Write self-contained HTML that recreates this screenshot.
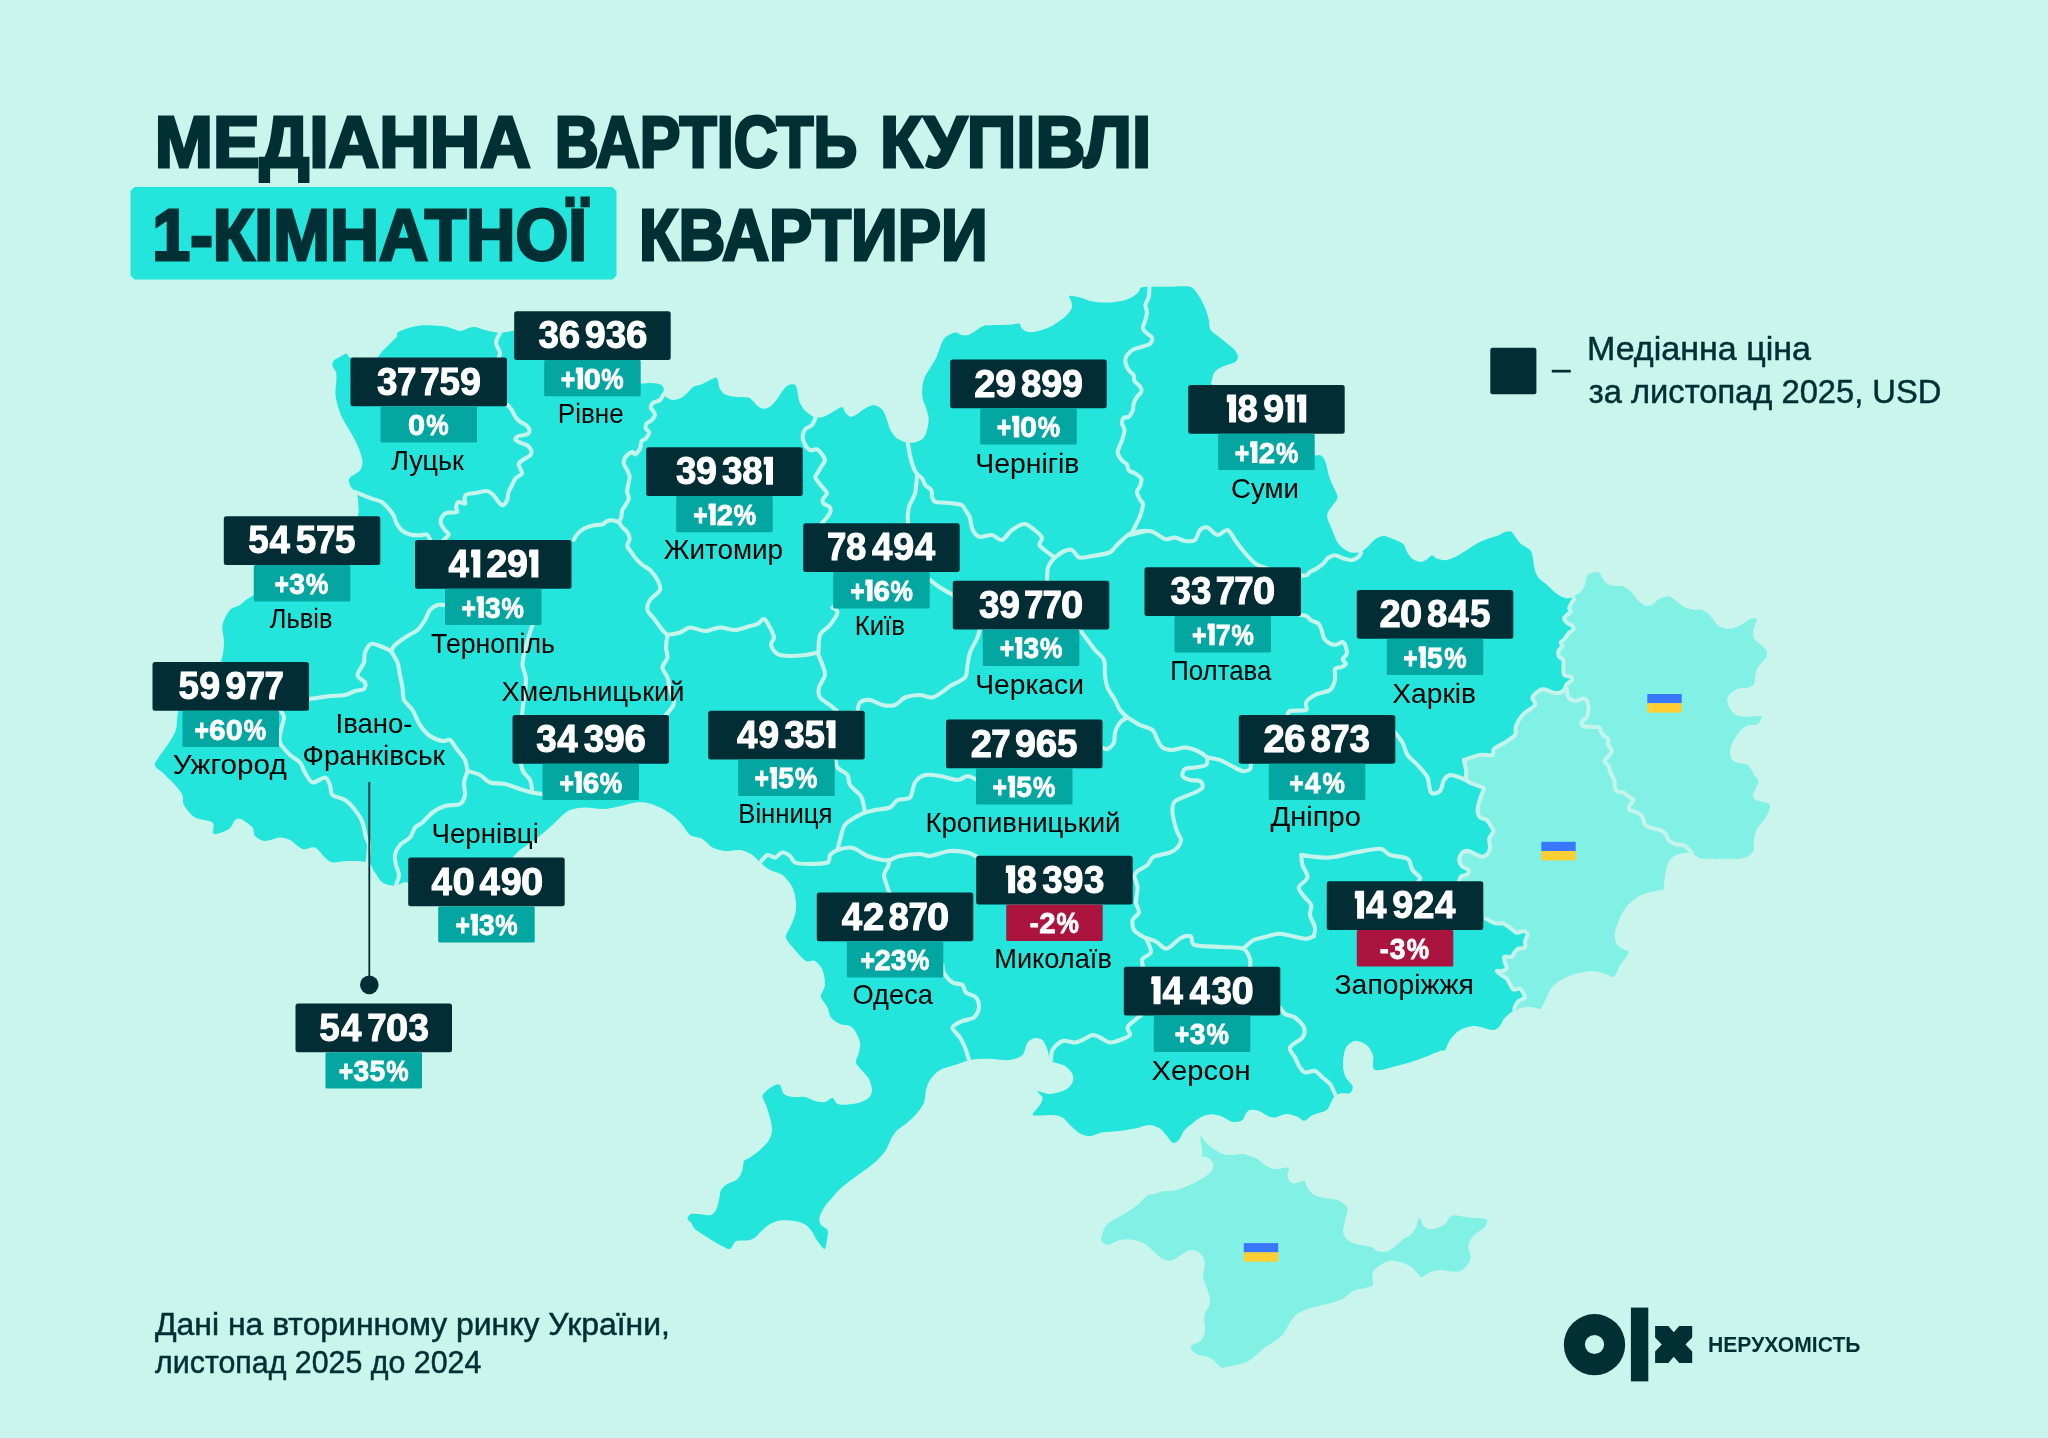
<!DOCTYPE html>
<html lang="uk"><head><meta charset="utf-8"><title>OLX</title>
<style>html,body{margin:0;padding:0;background:#caf5ec}body{width:2048px;height:1438px;overflow:hidden;font-family:"Liberation Sans",sans-serif}svg{display:block;will-change:transform}text{font-family:"Liberation Sans",sans-serif}
.n{font-weight:700;font-size:38.9px;fill:#fff}.n text{stroke:#fff;stroke-width:1px}.p{font-weight:700;font-size:30.2px;fill:#fff}.p text{stroke:#fff;stroke-width:.8px}.c{font-size:27.2px;fill:#000}
.t{font-weight:700;font-size:72.8px;fill:#002f34;stroke:#002f34;stroke-width:3px;stroke-linejoin:miter;paint-order:stroke}
.l,.f{stroke:#002f34;stroke-width:.5px}.l{font-size:34px;fill:#002f34}.f{font-size:30.8px;fill:#002f34}.g{font-weight:700;font-size:22.2px;fill:#002f34}
.b{fill:none;stroke:#c4f4ec;stroke-width:4.1;stroke-linecap:round;stroke-linejoin:round}
</style></head><body>
<svg xmlns="http://www.w3.org/2000/svg" width="2048" height="1438" viewBox="0 0 2048 1438">
<rect width="2048" height="1438" fill="#caf5ec"/>
<path d="M1572.5 598.1C1576.3 594 1578.3 594.2 1580.1 592.5C1581.9 590.8 1583.3 588.6 1584.2 586.7C1585.1 584.8 1585.4 581.8 1585.9 580C1586.4 578.2 1586.5 576.1 1587.6 575C1588.7 573.9 1591.6 572.9 1593.4 572.5C1595.2 572.1 1597.9 571.6 1599.3 572.5C1600.7 573.4 1601.5 576.8 1602.6 578.4C1603.7 580 1605.2 582.3 1606.8 583.4C1608.4 584.5 1610.9 585.4 1613.4 585.9C1615.9 586.4 1621 585.6 1623.5 586.4C1626 587.1 1628.4 589.4 1630.1 590.9C1631.8 592.4 1633.6 594.9 1635.1 596.7C1636.6 598.5 1638.4 601.2 1640.2 602.6C1642 604 1644.8 605.7 1646.8 605.9C1648.8 606.1 1651.7 605.2 1653.5 604.2C1655.3 603.2 1656.2 600.4 1658.5 599.2C1660.8 598 1666.2 596.5 1668.5 596.4C1670.8 596.3 1671.7 597.5 1673.5 598.7C1675.3 599.9 1678.2 602.8 1680.2 604.2C1682.2 605.6 1684.7 607.3 1686.9 608.1C1689.2 608.9 1693 609.5 1695.2 609.7C1697.5 609.9 1699.9 609 1701.9 609.7C1703.9 610.4 1706.8 612.6 1708.6 614.2C1710.4 615.8 1712.1 618.3 1713.6 620.1C1715.1 621.9 1716.8 624.7 1718.6 625.9C1720.4 627.1 1723.3 628 1725.3 628.4C1727.3 628.8 1729.8 628.9 1732 628.4C1734.2 627.9 1737.8 626.6 1740.3 625.4C1742.8 624.2 1746.5 621.2 1748.6 620.1C1750.7 619 1753.3 618.1 1754.5 618.1C1755.7 618.1 1756.7 618.8 1756.7 620.1C1756.7 621.4 1755.1 624.8 1754.5 626.8C1753.9 628.8 1752.7 631.4 1752.8 633.4C1752.9 635.4 1753.9 638.2 1755.3 640.1C1756.7 642 1760.3 644.4 1762 646C1763.7 647.6 1766.1 649.3 1766.7 651C1767.3 652.7 1767.2 655.6 1766.2 657.6C1765.2 659.6 1761.8 662.3 1760.3 664.3C1758.8 666.3 1757 668.9 1756.2 671C1755.4 673.1 1755.4 676.5 1755 678.5C1754.6 680.5 1754.8 683 1753.7 684.4C1752.6 685.8 1749.8 687.1 1747.8 687.7C1745.8 688.3 1742.4 687.7 1740.3 688.2C1738.2 688.7 1735.5 689.7 1733.6 691C1731.7 692.3 1728.7 695 1727.8 696.9C1726.9 698.8 1727.3 701.5 1727.8 703.5C1728.3 705.5 1729.7 708.4 1731.1 710.2C1732.5 712 1734.6 714.2 1737 715.2C1739.4 716.2 1743.4 716.8 1747 716.9C1750.6 717 1759.2 715.6 1761.2 716.1C1763.2 716.6 1760.9 719 1760.3 720.2C1759.7 721.4 1758.8 723.6 1757 724.4C1755.2 725.1 1750.7 724.6 1748.6 725.2C1746.5 725.8 1744.5 727.1 1742.8 728.6C1741.1 730.1 1738.6 733 1737 735.3C1735.4 737.5 1733 741.1 1732 743.6C1731 746.1 1730 749.6 1730 752C1730 754.4 1730.7 757.8 1732 759.5C1733.3 761.2 1736.3 762.5 1738.6 763.3C1740.8 764 1745.1 763.6 1747 764.5C1748.9 765.4 1750.1 767.9 1751.2 769.5C1752.3 771.1 1753.4 773.5 1754.5 775.3C1755.6 777.1 1758.4 779.4 1758.7 781.2C1759 783 1757 785.3 1756.2 787C1755.5 788.7 1754.2 791.3 1753.7 792.8C1753.2 794.3 1752.5 795.5 1753 796.7C1753.5 797.9 1755.2 799.9 1757.1 800.8C1759 801.7 1763.6 801.9 1765.5 802.5C1767.4 803.1 1769.2 803.6 1769.7 805C1770.2 806.4 1769.7 809.5 1768.8 811.7C1767.9 814 1765.4 817.6 1763.8 820C1762.2 822.4 1759.4 825.3 1758 827.6C1756.6 829.9 1755.2 832.7 1754.6 835.1C1754 837.5 1753.9 841.1 1753.8 843.4C1753.7 845.6 1754.5 848.2 1753.8 850.1C1753 852 1750.8 854.7 1748.8 855.9C1746.8 857.1 1744.2 858 1740.4 858.4C1736.7 858.8 1728.3 858.7 1723.8 858.8C1719.3 858.9 1713.9 858.9 1710.4 858.8C1706.9 858.7 1702.9 859.1 1700.4 858.4C1697.9 857.7 1695.7 855.1 1693.7 854.3C1691.7 853.5 1689.2 853.1 1687 853.1C1684.8 853.1 1681 853.6 1678.7 854.3C1676.5 855 1673.6 856.2 1672 857.6C1670.4 859 1668.7 861.3 1667.8 863.4C1666.9 865.5 1666.2 869.3 1665.7 871.8C1665.2 874.3 1664.8 877.7 1664.5 880.1C1664.2 882.5 1664 886.1 1663.7 887.6C1663.4 889.1 1664.1 889.3 1662.8 889.8C1661.5 890.3 1657.9 890.4 1655.3 891C1652.7 891.6 1648 892.5 1645.3 893.5C1642.6 894.5 1639.5 896.1 1637 897.7C1634.5 899.3 1630.9 901.9 1628.6 904.3C1626.3 906.7 1623.5 910.6 1621.9 913.5C1620.3 916.4 1618.8 920.7 1617.8 923.5C1616.8 926.3 1615.3 929.4 1614.9 931.9C1614.5 934.4 1614.7 938.1 1615.3 940.2C1615.9 942.3 1617.4 944.7 1618.6 946.1C1619.8 947.5 1622.1 948.5 1623.6 949.4C1625.1 950.3 1628.3 950.5 1628.6 951.9C1628.9 953.3 1626.5 956.7 1625.3 958.6C1624.1 960.5 1621.6 962.4 1620.3 964.4C1619 966.4 1617.9 970 1616.9 971.9C1615.9 973.8 1615.1 976.5 1613.6 976.9C1612.1 977.3 1609.2 975.1 1606.9 974.4C1604.7 973.6 1601.1 972.4 1598.6 971.9C1596.1 971.4 1592.7 971 1590.2 971.1C1587.7 971.2 1584.4 971.8 1581.9 972.3C1579.4 972.8 1576 973.6 1573.5 974.4C1571 975.2 1567.7 976.5 1565.2 977.8C1562.7 979.1 1558.9 981.2 1556.8 982.8C1554.7 984.4 1552.5 986.5 1551 988.6C1549.5 990.7 1548 994.5 1546.8 997C1545.6 999.5 1543.8 1003.5 1542.7 1005.3C1541.7 1007.1 1540.9 1008.6 1539.8 1009C1538.7 1009.4 1537 1008.1 1535.1 1007.8C1533.1 1007.5 1529.3 1006.9 1526.8 1007C1524.3 1007.1 1520.4 1008.2 1518.5 1008.7C1516.6 1009.2 1518.6 1013.1 1514.3 1010.3C1510 1007.5 1501.1 1006.5 1490 990C1478.9 973.5 1447.5 931.5 1440 900C1432.5 868.5 1425 814.5 1440 780C1455 745.5 1522.8 694 1540 670C1557.2 646 1550.1 630.8 1555 620C1559.9 609.2 1568.7 602.2 1572.5 598.1Z" fill="#81f0e5"/>
<path d="M1201 1135.8C1201.8 1135.8 1203.9 1140.3 1205.7 1142.2C1207.5 1144.1 1210.8 1147 1213.2 1148.7C1215.6 1150.4 1219.2 1152.4 1221.8 1153.4C1224.4 1154.4 1227.2 1155 1230.4 1155.1C1233.6 1155.2 1240.1 1153.7 1243.3 1154C1246.5 1154.3 1249.7 1156 1251.9 1156.8C1254.2 1157.6 1256 1158 1258.3 1159.4C1260.5 1160.8 1264.3 1164.8 1266.9 1166.3C1269.5 1167.8 1272.3 1168.9 1275.5 1169.1C1278.7 1169.3 1286.6 1166.8 1288.4 1167.6C1290.2 1168.4 1287.1 1172.5 1287.3 1174.5C1287.5 1176.5 1288.4 1179.6 1289.5 1180.9C1290.6 1182.2 1292.5 1183.5 1294.8 1183.5C1297 1183.5 1302.6 1180.2 1304.5 1180.9C1306.4 1181.6 1306.2 1186.3 1307.7 1188.4C1309.2 1190.5 1311.6 1193.4 1314.2 1194.9C1316.8 1196.4 1321.5 1197.4 1324.9 1198.1C1328.3 1198.8 1334 1199 1336.7 1199.8C1339.4 1200.6 1341.6 1202.3 1343.2 1203.5C1344.8 1204.7 1347 1206 1347.5 1207.8C1348 1209.6 1346.9 1212.9 1346.4 1215.3C1345.9 1217.7 1344.8 1221.3 1344.3 1223.9C1343.8 1226.5 1342.7 1230.1 1343.2 1232.5C1343.7 1234.9 1345.4 1238.2 1347.5 1240C1349.6 1241.8 1353.7 1243.2 1357.2 1244.3C1360.7 1245.4 1368.2 1246.1 1371.1 1247.1C1374 1248.1 1374.4 1250 1376.5 1250.7C1378.6 1251.4 1382.5 1252.3 1385.1 1251.8C1387.7 1251.3 1391.1 1249.3 1393.7 1247.5C1396.3 1245.7 1399.7 1241.9 1402.3 1240C1404.9 1238.1 1408.8 1236.5 1410.9 1234.6C1413 1232.7 1415.2 1229.2 1416.2 1227.1C1417.2 1225 1417.1 1221.9 1417.7 1220.6C1418.3 1219.3 1419.8 1217.9 1420.5 1218.5C1421.2 1219.1 1421.4 1223.3 1422.7 1224.9C1424 1226.5 1427 1228.7 1429.1 1229.2C1431.2 1229.7 1434.2 1229 1436.6 1228.2C1439 1227.4 1443.3 1225.5 1445.2 1223.9C1447.1 1222.3 1448 1218.7 1449.5 1217.4C1451 1216.1 1452.6 1215.4 1454.9 1215.3C1457.2 1215.2 1461.9 1216.6 1464.6 1217C1467.3 1217.4 1470.5 1217.9 1473.2 1218.1C1475.9 1218.3 1480.7 1218.1 1482.8 1218.5C1484.9 1218.9 1486.8 1219.3 1487.1 1220.6C1487.4 1221.9 1486.4 1225.3 1485 1227.1C1483.6 1228.9 1479.6 1230.7 1477.5 1232.5C1475.4 1234.3 1472.4 1236.8 1471 1238.9C1469.6 1241 1468.4 1244.3 1468.2 1246.4C1468 1248.5 1469.5 1251.1 1469.9 1252.9C1470.3 1254.7 1471.1 1256.3 1470.6 1258.2C1470.1 1260.1 1468.2 1263.9 1466.7 1265.8C1465.2 1267.7 1462.5 1270.2 1460.3 1271.1C1458 1272 1454.6 1271.8 1451.7 1271.6C1448.8 1271.4 1444.1 1270 1440.9 1270.1C1437.7 1270.2 1433.1 1271.1 1430.2 1272.2C1427.3 1273.3 1423.5 1277 1421.6 1277.2C1419.7 1277.4 1418.8 1274.8 1417.3 1273.3C1415.8 1271.8 1414.2 1268.9 1411.9 1267.3C1409.7 1265.7 1405.4 1263.5 1402.3 1262.5C1399.2 1261.5 1394.4 1260.2 1391.5 1260.4C1388.6 1260.6 1385.5 1262.1 1382.9 1263.6C1380.3 1265.1 1375.9 1268.2 1374.3 1270.1C1372.7 1272 1372.4 1274.2 1372.2 1276.5C1372 1278.8 1373.8 1283.4 1372.8 1285.1C1371.8 1286.8 1368 1287.3 1365.7 1287.9C1363.4 1288.5 1359.5 1288.7 1357.2 1289.4C1355 1290.1 1352.6 1291.3 1350.7 1292.6C1348.8 1293.9 1346.9 1296.5 1344.3 1298C1341.7 1299.5 1337.1 1301.2 1333.5 1302.3C1329.9 1303.4 1324.5 1304.5 1320.6 1305.5C1316.7 1306.5 1311.2 1307.4 1307.7 1308.7C1304.2 1310 1299.6 1312.2 1297 1314.1C1294.4 1316 1292.1 1319.3 1290.5 1321.6C1288.9 1323.8 1287.6 1327 1286.3 1329.1C1285 1331.2 1283.9 1333.7 1282 1335.6C1280.1 1337.5 1276 1340.2 1273.4 1342C1270.8 1343.8 1267.4 1345.5 1264.8 1347.4C1262.2 1349.3 1258.8 1352.8 1256.2 1354.9C1253.6 1357 1250.2 1360 1247.6 1361.4C1245 1362.8 1241.6 1363.5 1239 1364.2C1236.4 1364.9 1233 1365.6 1230.4 1366.1C1227.8 1366.6 1223.7 1368 1221.8 1367.8C1219.9 1367.6 1218.8 1365.8 1217.5 1364.6C1216.2 1363.4 1214.8 1360.9 1213.2 1359.7C1211.6 1358.5 1209.2 1357.2 1206.8 1356.4C1204.4 1355.6 1199.4 1355.5 1197.1 1354.5C1194.8 1353.5 1192.6 1351 1191.7 1349.6C1190.8 1348.2 1190.2 1346.4 1191.3 1345.3C1192.4 1344.2 1197.4 1343.3 1199.2 1342C1201 1340.7 1202.6 1338.6 1203.5 1336.7C1204.4 1334.8 1204.9 1331.5 1205 1329.1C1205.1 1326.7 1204.2 1322.9 1204.2 1320.5C1204.2 1318.1 1204.3 1315.1 1205 1313C1205.7 1310.9 1208.2 1308.7 1208.9 1306.6C1209.6 1304.5 1210 1301.5 1209.8 1299.1C1209.6 1296.7 1208.6 1293.1 1207.8 1290.5C1207 1287.9 1205.3 1284.2 1204.6 1281.9C1203.9 1279.6 1203.1 1277.7 1203.1 1275.4C1203.1 1273.1 1204.4 1269.2 1204.6 1266.8C1204.8 1264.4 1204.8 1261.3 1204.2 1259.3C1203.6 1257.3 1201.8 1254.8 1200.3 1253.5C1198.8 1252.2 1195.7 1250.7 1193.9 1250.3C1192.1 1249.9 1190.4 1250 1188.5 1250.7C1186.6 1251.4 1183.1 1253.7 1181 1255C1178.9 1256.3 1176.3 1258.4 1174.5 1259.3C1172.7 1260.2 1171.1 1261 1169.2 1260.8C1167.3 1260.6 1163.9 1259.5 1161.6 1258.2C1159.3 1256.9 1156.3 1253.8 1154.1 1251.8C1151.8 1249.8 1149 1246.5 1146.6 1244.9C1144.2 1243.3 1140.7 1241.9 1138 1241.1C1135.3 1240.3 1131 1239.5 1128.3 1239.3C1125.6 1239.1 1122.1 1239.4 1119.7 1240C1117.3 1240.6 1114.1 1242.5 1112.2 1243.2C1110.3 1243.9 1108.6 1245.4 1106.9 1244.9C1105.2 1244.4 1101.7 1241.7 1101.1 1240C1100.5 1238.3 1102.1 1235.3 1102.6 1233.5C1103.1 1231.7 1103.7 1229.3 1104.7 1227.7C1105.7 1226.1 1106.9 1224.4 1109 1222.8C1111.1 1221.2 1116 1218.6 1118.7 1217C1121.4 1215.4 1124.6 1213.8 1127.3 1212.1C1130 1210.4 1134.3 1207.7 1136.9 1205.6C1139.5 1203.5 1142.7 1199.7 1144.5 1198.1C1146.3 1196.5 1146.9 1195.6 1148.8 1194.9C1150.7 1194.2 1155.4 1193.9 1157.3 1193.4C1159.2 1192.9 1159 1192 1161.6 1191.6C1164.2 1191.2 1171.3 1191.2 1174.5 1190.6C1177.7 1190 1180.5 1188.8 1183.1 1187.8C1185.7 1186.8 1189.1 1185.4 1191.7 1184.1C1194.3 1182.8 1197.7 1180.9 1200.3 1179.4C1202.9 1177.9 1207 1175.5 1208.9 1174C1210.8 1172.5 1212.2 1170.6 1212.8 1169.1C1213.4 1167.6 1213.6 1165.2 1213.2 1163.7C1212.8 1162.2 1211.1 1160 1210 1159C1208.9 1158 1206.8 1157.2 1205.7 1156.8C1204.6 1156.4 1203.1 1157.4 1202.5 1156.2C1201.9 1155 1202.3 1150.8 1202 1148.7C1201.7 1146.6 1200.9 1144.1 1200.7 1142.2C1200.5 1140.3 1200.2 1135.8 1201 1135.8Z" fill="#81f0e5"/>
<path d="M346.7 353.7C348.2 353.8 347.2 357 350.1 357.6C353 358.2 362 358 366 358C370 358 374.4 358.5 376.8 357.6C379.2 356.7 379.8 353.8 381.8 351.7C383.8 349.6 387.9 345.6 390.1 343.4C392.4 341.1 395.7 338.3 396.8 336.7C397.9 335.1 396.1 333.7 397.6 332.5C399.1 331.3 403.4 329.5 406.8 328.4C410.2 327.3 416.2 325.8 420.2 325.4C424.2 324.9 429.5 325.2 433.5 325.4C437.5 325.6 442.9 325.9 446.9 326.7C450.9 327.5 456.9 330.7 460.2 330.9C463.5 331.1 466.3 328.6 468.6 328C470.9 327.4 473.1 326.7 475.3 327C477.6 327.3 480.9 328.9 483.6 329.7C486.3 330.4 491.1 331.6 493.6 332C496.1 332.4 498.1 332.5 500.3 332.5C502.6 332.5 506.4 331.9 508.6 331.7C510.9 331.5 510.6 330.4 515.3 330.9C520 331.4 531.8 332.9 540 335C548.2 337.1 561 341.6 570 345C579 348.4 591.8 352.8 600 358C608.2 363.2 618.8 376.2 625 380C631.2 383.8 637.8 383.1 641.5 383.5C645.2 383.9 647.2 382.9 650 383C652.8 383.1 658 383.5 660 384.2C662 384.9 662.8 386.2 663.4 387.6C664 389 663.2 391.9 663.7 393.4C664.2 394.9 665.2 396.6 666.7 397.6C668.2 398.6 671.1 400.1 673.4 400.1C675.6 400.1 679.5 398.9 681.7 397.6C684 396.3 686.6 393.3 688.4 391.7C690.2 390.1 691.4 387.8 693.4 386.7C695.4 385.6 699.3 385.2 701.8 384.2C704.3 383.2 708 381 710.1 380C712.2 379 714.7 377.4 715.9 377.5C717.1 377.6 717.6 379.4 718.1 380.9C718.6 382.4 718.5 385.7 719.3 387.6C720.1 389.5 721.9 392.2 723.5 393.4C725.1 394.6 727.6 395.3 730.1 395.9C732.6 396.5 737.4 396.8 740.2 397.1C743 397.4 746.5 396.9 748.5 397.6C750.5 398.3 752 400.3 753.5 401.7C755 403.1 756.9 405.7 758.5 406.8C760.1 407.9 762.5 408.9 764.4 408.8C766.3 408.7 769.1 407.3 771 405.9C772.9 404.5 775.3 401.3 776.9 399.2C778.5 397.1 780.4 393.7 781.9 391.7C783.4 389.7 785.4 387 786.9 385.9C788.4 384.8 790.5 384.2 791.9 384.2C793.3 384.2 795.2 384.5 796.1 385.9C797 387.3 797.2 391 797.7 393.4C798.2 395.8 798.4 399.2 799.4 401.7C800.4 404.2 802.5 408 804.4 410.1C806.3 412.2 810 414.8 811.9 415.9C813.8 417 815.1 417.5 816.9 417.6C818.7 417.7 821.3 417.6 823.6 416.8C825.9 416.1 829.8 413.9 832 412.6C834.2 411.3 837 409.1 838.6 408.4C840.2 407.6 841.8 407 842.8 407.6C843.8 408.2 844.2 411.2 845.3 412.6C846.4 414 848.5 416.5 850.3 416.8C852.1 417.1 855 415.4 857 414.3C859 413.2 861.5 410.6 863.7 409.3C866 408 869.8 405.8 872 405.4C874.2 405 876.9 405.8 878.7 406.8C880.5 407.8 882.5 409.8 883.7 411.8C884.9 413.8 886 417.4 887 420.1C888 422.8 888.9 427.3 890.4 430.1C891.9 432.9 894.6 436.6 897.1 438.5C899.6 440.4 904.1 442.1 907.1 442.6C910.1 443.1 914.6 442.6 917.1 441.8C919.6 441.1 922.3 439.6 923.8 437.6C925.3 435.6 926.7 431.5 927.4 428.5C928.1 425.5 928.8 420.6 928.6 417.5C928.4 414.4 926.9 410.9 926 408C925.1 405.1 923.3 401.6 922.7 398.5C922.1 395.4 922 390.6 922.3 387.5C922.6 384.4 923.3 380.5 924.5 377.5C925.7 374.5 928.7 370.6 930.5 367.5C932.3 364.4 935.1 360.2 936.7 356.8C938.3 353.4 939.6 348 940.9 345.1C942.2 342.2 943 339.5 945.1 337.6C947.2 335.7 952.6 333 955.1 332.6C957.6 332.2 959.7 334.7 961.7 335.1C963.7 335.5 966.1 335.9 968.4 335.1C970.7 334.4 974.5 331.5 976.8 330.1C979 328.7 980.4 326.6 983.4 325.9C986.4 325.1 992.8 325.3 996.8 325.1C1000.8 324.9 1006.8 324.9 1010.2 324.7C1013.6 324.5 1017.6 323.1 1019.3 323.7C1021 324.3 1020.4 327.1 1021.8 328.4C1023.2 329.7 1026 331.7 1028.5 332.1C1031 332.5 1035.5 331.6 1038.5 330.9C1041.5 330.2 1045.5 329 1048.5 327.6C1051.5 326.2 1055.8 323.6 1058.6 321.7C1061.4 319.8 1064.9 317.2 1066.9 315.1C1068.9 313 1071.3 309.7 1071.9 307.6C1072.5 305.5 1071.5 302.7 1071.1 300.9C1070.7 299.1 1068 296.4 1069.4 295.9C1070.8 295.4 1077.2 296.8 1080.3 297.5C1083.4 298.2 1087 300.1 1090.3 300.9C1093.6 301.6 1098.5 302.3 1102 302.5C1105.5 302.7 1110.1 302.6 1113.6 302.2C1117.1 301.8 1122.3 300.9 1125.3 300C1128.3 299.1 1131.7 297.1 1133.7 295.9C1135.7 294.7 1137.6 293 1138.7 291.7C1139.8 290.4 1139.7 288.2 1141.2 287.5C1142.7 286.8 1146.3 286.8 1148.7 286.7C1151.1 286.6 1153.7 286.7 1157 286.7C1160.3 286.7 1166.9 286.8 1170.4 286.7C1173.9 286.6 1177.4 286.2 1180.4 286.2C1183.4 286.2 1188.2 286 1190.4 286.7C1192.7 287.4 1193.9 289.1 1195.4 290.9C1196.9 292.7 1198.9 295.8 1200.4 298.4C1201.9 301 1204.1 305.1 1205.4 308.4C1206.7 311.7 1208 316.8 1208.8 320.1C1209.6 323.4 1209 327.6 1210.5 330.1C1212 332.6 1216.3 334.8 1218.8 336.8C1221.3 338.8 1224.7 341.4 1227.1 343.4C1229.5 345.4 1233.1 348.1 1234.7 350.1C1236.3 352.1 1237.9 355 1238 356.8C1238.1 358.6 1237.1 360.6 1235.5 361.8C1233.9 363 1229.6 364.1 1227.1 365.1C1224.6 366.1 1220.8 367.2 1218.8 368.5C1216.8 369.8 1214.8 371.7 1213.8 373.5C1212.8 375.3 1212.2 378.4 1212.1 380.2C1212 382 1208.8 382.2 1213 385.2C1217.2 388.2 1230.7 394 1240 400C1249.3 406 1266 418.2 1275 425C1284 431.8 1294 440.5 1300 445C1306 449.5 1312.1 453.5 1315.1 455C1318.1 456.5 1318.7 454.4 1320.1 455C1321.5 455.6 1323.2 457.4 1324.2 459.2C1325.2 461 1326 464.1 1326.7 466.7C1327.5 469.3 1328.2 473.7 1329.2 476.7C1330.2 479.7 1332.1 483.8 1333.4 486.8C1334.7 489.8 1337.5 494.3 1337.6 496.8C1337.7 499.3 1335.5 501.4 1334.2 503.4C1332.9 505.4 1330.3 508.1 1329.2 510.1C1328.1 512.1 1327 514.5 1327.1 516.8C1327.2 519 1329 522.3 1330.1 525.1C1331.2 527.9 1333 532.4 1334.2 535.2C1335.4 538 1336.9 541.4 1338.4 543.5C1339.9 545.6 1342.3 547.9 1344.3 549.3C1346.3 550.7 1349.3 552.3 1351.8 552.7C1354.3 553.1 1358.5 552.8 1361 551.8C1363.5 550.8 1366.4 547.9 1368.5 546C1370.6 544.1 1372.8 540.8 1375.1 539.3C1377.3 537.8 1380.7 536 1383.5 536C1386.3 536 1390.5 538.1 1393.5 539.3C1396.5 540.5 1401.5 542.4 1403.5 544.3C1405.5 546.2 1405.6 549.7 1406.9 551.8C1408.2 553.9 1409.9 557 1411.9 558.5C1413.9 560 1418 561.8 1420.2 561.9C1422.5 562 1425.1 560.4 1426.9 559.4C1428.7 558.4 1430.4 555.3 1431.9 555.2C1433.4 555.1 1434.9 557.8 1436.9 558.5C1438.9 559.2 1442.4 560.4 1445.2 560.2C1448 560 1452.3 558.3 1455.3 556.9C1458.3 555.5 1462 553 1465.3 551C1468.6 549 1473.5 545.4 1477 543.5C1480.5 541.6 1485.3 539.7 1488.6 538.5C1491.9 537.3 1496.2 536.2 1498.7 535.2C1501.2 534.2 1503.4 532.4 1505.3 531.8C1507.2 531.2 1509.7 530.8 1511.2 531.5C1512.7 532.2 1513.9 535 1515.3 536.8C1516.7 538.6 1518.1 541.5 1520.4 543.5C1522.7 545.5 1528.5 548 1530.4 550.2C1532.3 552.5 1532.3 555.8 1532.9 558.5C1533.5 561.2 1533.8 565.7 1534.5 568.5C1535.2 571.3 1536.3 574.6 1537.9 576.9C1539.5 579.2 1542.8 581.3 1545.4 583.6C1548 585.9 1552.6 590.5 1555 592.5C1557.4 594.5 1559.8 595.8 1561.7 596.7C1563.6 597.6 1565.9 598.2 1567.5 598.4C1569.1 598.6 1572 597.2 1572.5 598.1C1573 599 1571.4 602.7 1570.9 604.2C1570.4 605.7 1569.2 607.3 1569.2 608.4C1569.2 609.5 1571.3 610.7 1570.9 611.7C1570.5 612.7 1567.7 614.1 1566.7 615.1C1565.7 616.1 1564.2 617.3 1564.2 618.4C1564.2 619.5 1565.5 621.5 1566.7 622.6C1567.9 623.7 1571.5 624.9 1572.5 625.9C1573.5 626.9 1574 628.2 1573.4 629.3C1572.8 630.4 1569.7 632 1568.4 633.4C1567.1 634.8 1566.1 637.1 1565 638.5C1563.9 639.9 1561.3 641.5 1560.9 642.6C1560.5 643.7 1562.9 644.7 1562.5 646C1562.1 647.3 1558.9 649.4 1558.4 651C1557.9 652.6 1558.5 655.4 1559.2 656.8C1560 658.2 1562.8 658.3 1563.4 660.1C1564 661.9 1563.3 666.2 1563.4 668.5C1563.5 670.8 1563.1 674 1564.2 675.2C1565.3 676.4 1569.8 676 1570.9 676.8C1572 677.5 1572.3 679.1 1571.7 680.2C1571.1 681.3 1567.7 683.2 1566.7 684.4C1565.7 685.6 1566 687.3 1565 688.5C1564 689.7 1561.7 692.1 1560 692.7C1558.3 693.3 1555.7 693.2 1553.4 692.7C1551.2 692.2 1547 689.8 1545 689.4C1543 689 1541.9 689 1540 690.2C1538.1 691.4 1533.2 695.3 1532.5 697.5C1531.8 699.7 1536.5 702.4 1535 705C1533.5 707.6 1525.3 711.9 1522.5 715C1519.7 718.1 1517.1 723 1516 726C1514.9 729 1516.7 732.5 1515 735C1513.3 737.5 1508.2 740.4 1505 742.5C1501.8 744.6 1495.9 747.1 1494 749C1492.1 750.9 1494.6 754.1 1492.5 755C1490.4 755.9 1484.3 754.2 1480 755C1475.7 755.8 1466.1 757.8 1464 760C1461.9 762.2 1465.5 766.9 1466 770C1466.5 773.1 1465 778.4 1467.5 781C1470 783.6 1480.1 786.1 1482.5 787.5C1484.9 788.9 1483.6 788.6 1483.4 790C1483.2 791.4 1481.7 794.5 1480.9 796.7C1480.2 799 1478.9 802.8 1478.4 805C1477.9 807.2 1477.3 809.8 1477.6 811.7C1477.9 813.6 1478.7 816.3 1480.1 817.5C1481.5 818.7 1485.1 818.7 1486.7 820C1488.3 821.3 1489.9 824.1 1490.9 825.9C1491.9 827.7 1493.7 829.8 1493.4 831.7C1493.1 833.6 1489.7 836.1 1489.2 838.4C1488.7 840.7 1490.2 844.7 1490.1 846.8C1490 848.9 1489.5 851.1 1488.4 852.6C1487.3 854.1 1484.5 856.5 1482.6 856.8C1480.7 857.1 1478.2 855.2 1475.9 854.3C1473.6 853.4 1469.6 851 1467.5 850.9C1465.4 850.8 1462.9 852 1461.7 853.4C1460.5 854.8 1459.2 858.2 1459.2 860.1C1459.2 862 1460.3 864.4 1461.7 865.9C1463.1 867.4 1467.5 868.8 1468.4 870.1C1469.3 871.4 1468.6 873.3 1467.5 874.3C1466.4 875.3 1462.1 875.8 1460.9 876.8C1459.7 877.8 1458.6 878.3 1459.2 881C1459.8 883.7 1462.6 891 1465 895C1467.4 899 1471.9 904.5 1475 908C1478.1 911.5 1483.4 916.4 1485.9 918.5C1488.4 920.6 1490.1 921.1 1491.7 921.9C1493.3 922.6 1495 923.3 1496.8 923.5C1498.6 923.7 1501.4 922.9 1503.4 923.5C1505.4 924.1 1508.1 926.3 1510.1 927.7C1512.1 929.1 1514.8 932.2 1516.8 932.7C1518.8 933.2 1521.9 930.7 1523.5 931C1525.1 931.3 1527.4 932.9 1527.6 934.4C1527.8 935.9 1525.5 939.1 1525.1 941.1C1524.7 943.1 1526.1 946.6 1525.1 947.7C1524.1 948.8 1520.1 947.9 1518.5 948.6C1516.9 949.4 1515.3 951.5 1514.3 952.7C1513.3 953.9 1513.3 956.3 1511.8 956.9C1510.3 957.5 1505.3 956 1504.3 956.9C1503.3 957.8 1504.7 961 1505.1 962.8C1505.5 964.6 1507.3 967.4 1506.8 968.6C1506.3 969.8 1503.3 970.7 1501.8 971.1C1500.3 971.5 1496.8 970.5 1496.8 971.1C1496.8 971.7 1500.3 974.2 1501.8 975.3C1503.3 976.4 1505.6 977.2 1506.8 978.6C1508 980 1509.1 982.9 1510.1 984.5C1511.1 986.1 1511.9 988.9 1513.4 989.5C1514.9 990.1 1518.6 988 1520.1 988.6C1521.6 989.2 1522.8 992.2 1523.5 993.6C1524.2 995 1525.8 996.7 1525.1 997.8C1524.3 998.9 1520 999.9 1518.5 1001.2C1517 1002.5 1515.7 1004.8 1515.1 1006.2C1514.5 1007.6 1515.3 1009.1 1514.3 1010.3C1513.3 1011.5 1510 1013.1 1508.4 1014.5C1506.8 1015.9 1504.6 1017.9 1503.4 1019.5C1502.2 1021.1 1501.7 1023.8 1500.1 1025.4C1498.5 1027 1496.8 1029.9 1493 1030C1489.2 1030.1 1480 1026 1475 1026C1470 1026 1463.8 1027.9 1460 1030C1456.2 1032.1 1452.2 1037 1450 1040C1447.8 1043 1446.5 1048.3 1445 1050C1443.5 1051.7 1443.8 1049.7 1440 1051C1436.2 1052.3 1426 1056.9 1420 1059C1414 1061.1 1406.8 1063.3 1400 1065C1393.2 1066.7 1379 1071.5 1375 1070C1371 1068.5 1374.3 1058.8 1373 1055C1371.7 1051.2 1368.7 1046.6 1366 1044.5C1363.3 1042.4 1358 1040.5 1355 1041C1352 1041.5 1347.8 1044.3 1346 1047.5C1344.2 1050.7 1343.2 1058.2 1343 1062.5C1342.8 1066.8 1343.6 1072.5 1345 1076C1346.4 1079.5 1351.8 1083.5 1352.5 1086C1353.2 1088.5 1351.9 1091.9 1350 1093C1348.1 1094.1 1342.4 1092.9 1340 1093.5C1337.6 1094.1 1335.7 1095 1334 1097C1332.3 1099 1330.4 1104.9 1329 1107C1327.6 1109.1 1327.5 1109.7 1324.9 1111C1322.4 1112.3 1315.1 1113.9 1312 1115.4C1308.9 1116.9 1306.8 1120.5 1304.5 1120.7C1302.2 1120.9 1299.7 1117.4 1297 1116.4C1294.3 1115.4 1289.7 1113.7 1286.3 1113.9C1282.9 1114.1 1277.3 1117.3 1274.4 1117.5C1271.5 1117.7 1269.4 1116.5 1266.9 1115.4C1264.4 1114.4 1260.6 1111.3 1258 1110.5C1255.4 1109.7 1251.6 1109.4 1249.7 1110C1247.8 1110.6 1246.5 1112.8 1245.4 1114.3C1244.3 1115.8 1244.1 1119.2 1242.2 1120.3C1240.3 1121.4 1235.6 1122.4 1232.5 1121.8C1229.4 1121.2 1225 1117.5 1221.8 1116.4C1218.6 1115.3 1214.2 1114.1 1211 1114.3C1207.8 1114.5 1203.2 1116 1200.3 1117.5C1197.4 1119 1194.1 1122.1 1191.7 1124C1189.3 1125.9 1186.1 1128 1184.2 1130.4C1182.3 1132.8 1180.5 1138.2 1178.8 1140C1177.1 1141.8 1174.7 1143.5 1172.8 1142.7C1170.9 1141.9 1167.9 1136.9 1165.9 1134.7C1163.9 1132.5 1162.1 1129.8 1159.5 1128.3C1156.9 1126.8 1152.3 1125 1148.8 1125C1145.3 1125 1140.4 1127.4 1135.9 1128.3C1131.4 1129.2 1123.9 1130.4 1118.7 1131C1113.5 1131.6 1105.7 1131.8 1101.5 1132.6C1097.3 1133.4 1093.9 1136.1 1090.7 1136.2C1087.5 1136.3 1083.1 1135.2 1080 1133.5C1076.9 1131.8 1072.6 1127.4 1070 1125C1067.4 1122.6 1065.1 1119 1062.5 1117.5C1059.9 1116 1055.9 1115.3 1052.5 1115C1049.1 1114.7 1043 1115.6 1040 1115.5C1037 1115.4 1032.5 1116.1 1032.5 1114.5C1032.5 1112.9 1038.5 1107.5 1040 1105C1041.5 1102.5 1042.9 1099.6 1042.5 1097.5C1042.1 1095.4 1036.4 1091.5 1037.5 1091C1038.6 1090.5 1045.9 1094.2 1050 1094C1054.1 1093.8 1061.6 1091.7 1065 1090C1068.4 1088.3 1071.4 1084.9 1072.5 1082.5C1073.6 1080.1 1073.6 1076.5 1072.5 1074C1071.4 1071.5 1067.6 1067.7 1065 1066C1062.4 1064.3 1057.2 1063.4 1055 1062.5C1052.8 1061.6 1051.1 1061.9 1050 1060C1048.9 1058.1 1048.6 1053 1047.5 1050C1046.4 1047 1044.4 1041.8 1042.5 1040C1040.6 1038.2 1037.2 1037.6 1035 1038C1032.8 1038.4 1029.4 1040 1027.5 1042.5C1025.6 1045 1025.1 1052.4 1022.5 1055C1019.9 1057.6 1014.5 1059.4 1010 1060C1005.5 1060.6 997 1059.2 992.5 1059C988 1058.8 983.4 1058.8 980 1059C976.6 1059.2 973.8 1059.1 970 1060C966.2 1060.9 959.5 1063.5 955 1065C950.5 1066.5 943.8 1067.8 940 1070C936.2 1072.2 932.1 1077 930 1080C927.9 1083 926.9 1086.6 926 1090C925.1 1093.4 925.3 1099.1 924 1102.5C922.7 1105.9 920 1109.5 917.5 1112.5C915 1115.5 910.5 1119.9 907.5 1122.5C904.5 1125.1 900 1127.5 897.5 1130C895 1132.5 892.7 1136 891 1139C889.3 1142 888 1146.8 886 1150C884 1153.2 880.6 1157 877.5 1160C874.4 1163 868.8 1167.2 865 1170C861.2 1172.8 856.2 1176.2 852.5 1179C848.8 1181.8 843.2 1186 840 1189C836.8 1192 833.4 1196.2 831 1199C828.6 1201.8 825.7 1204.7 824 1207.5C822.3 1210.3 820 1214.9 819.5 1217.5C819 1220.1 819.8 1223.1 821 1225C822.2 1226.9 826.6 1227.8 827.5 1230C828.4 1232.2 827.5 1237.2 827 1240C826.5 1242.8 825.9 1248.8 824.5 1249C823.1 1249.2 819.3 1243.5 817.5 1241C815.7 1238.5 814.2 1234.9 812.5 1232.5C810.8 1230.1 808.6 1226.7 806 1225C803.4 1223.3 798.9 1221.7 795 1221C791.1 1220.3 783.8 1220 780 1220.5C776.2 1221 772.6 1222.6 770 1224C767.4 1225.4 764.8 1228 762.5 1230C760.2 1232 757.2 1235.9 755 1237.5C752.8 1239.1 750.4 1240 747.5 1240.5C744.6 1241 738.6 1239.7 736 1241C733.4 1242.3 732.4 1248.4 730 1249C727.6 1249.6 723.4 1246.7 720 1245C716.6 1243.3 711.2 1239.9 707.5 1237.5C703.8 1235.1 697.5 1231.2 695 1229C692.5 1226.8 692.1 1224 691 1222.5C689.9 1221 687.5 1220.3 687.5 1219C687.5 1217.7 688.8 1214.7 691 1214C693.2 1213.3 699.5 1214.3 702.5 1214.5C705.5 1214.7 709 1215.7 711 1215C713 1214.3 714.8 1212.2 716 1210C717.2 1207.8 718.2 1203 719 1200C719.8 1197 719.7 1192.4 721 1190C722.3 1187.6 725 1185.7 727.5 1184C730 1182.3 735.2 1181.1 737.5 1179C739.8 1176.9 741.5 1172.7 742.5 1170C743.5 1167.3 742.9 1162.9 744 1161C745.1 1159.1 747.6 1159.2 750 1157.5C752.4 1155.8 757.1 1152.6 760 1150C762.9 1147.4 767.2 1143 769 1140C770.8 1137 771.9 1133.4 772 1130C772.1 1126.6 770.9 1121.2 770 1117.5C769.1 1113.8 767.1 1108.2 766 1105C764.9 1101.8 762.3 1098.2 762.5 1096C762.7 1093.8 765.6 1091.7 767.5 1090C769.4 1088.3 773.1 1085.8 775 1085C776.9 1084.2 778.6 1083.7 780 1085C781.4 1086.3 782.1 1092.2 784 1094C785.9 1095.8 789.4 1096.5 792.5 1097C795.6 1097.5 801.6 1096.4 805 1097C808.4 1097.6 812 1100.2 815 1101C818 1101.8 822.4 1102.5 825 1102C827.6 1101.5 830.6 1097.7 832.5 1098C834.4 1098.3 835.2 1103 837.5 1104C839.8 1105 844.1 1104.7 847.5 1104.5C850.9 1104.3 856.8 1103.5 860 1102.5C863.2 1101.5 867.2 1099.4 869 1097.5C870.8 1095.6 872 1092.8 872 1090C872 1087.2 870.4 1081.8 869 1079C867.6 1076.2 864.5 1073.5 862.5 1071C860.5 1068.5 856.5 1065.3 856 1062.5C855.5 1059.7 858.4 1055.5 859 1052.5C859.6 1049.5 860.5 1045.5 860 1042.5C859.5 1039.5 857.5 1035 856 1032.5C854.5 1030 852.4 1027.3 850 1026C847.6 1024.7 842.9 1025.3 840 1024C837.1 1022.7 832.9 1020 831 1017.5C829.1 1015 828.8 1010.1 827.5 1007.5C826.2 1004.9 823.5 1001.9 822.5 1000C821.5 998.1 820.6 997.2 821 995C821.4 992.8 824.8 988.8 825 985C825.2 981.2 824 973.6 822.5 970C821 966.4 817.5 962.4 815 961C812.5 959.6 809 962.6 806 961C803 959.4 798 953.5 795 950C792 946.5 786.8 940.9 786 937.5C785.2 934.1 788.6 930.9 790 927.5C791.4 924.1 794.1 918.8 795 915C795.9 911.2 796.4 906.6 796 902.5C795.6 898.4 794.5 891.6 792.5 887.5C790.5 883.4 785.9 877.6 782.5 875C779.1 872.4 773.4 871.9 770 870C766.6 868.1 762.6 864.8 760 862.5C757.4 860.2 755.5 856.9 752.5 855C749.5 853.1 744.1 850.6 740 850C735.9 849.4 729.1 851.4 725 851C720.9 850.6 715.9 849.3 712.5 847.5C709.1 845.7 705.9 840.9 702.5 839C699.1 837.1 693 837.1 690 835C687 832.9 685.1 828 682.5 825C679.9 822 675.9 817.6 672.5 815C669.1 812.4 663.8 809.3 660 807.5C656.2 805.7 651.2 803.8 647.5 803C643.8 802.2 638.4 802.2 635 802.5C631.6 802.8 629.5 804 625 805C620.5 806 611 808.6 605 809C599 809.4 590.2 807.4 585 807.5C579.8 807.6 573.8 808.5 570 810C566.2 811.5 562.6 815.2 560 817.5C557.4 819.8 556 821.9 552.5 825C549 828.1 541.9 834.2 537 838C532.1 841.8 523.7 847.1 520 850C516.3 852.9 516.2 854.2 512.5 857.5C508.8 860.8 501.4 868 495 872C488.6 876 478.2 881.6 470 884C461.8 886.4 449.3 888.2 440 888C430.7 887.8 414 883.1 408 882.5C402 881.9 401.9 883.5 400 884C398.1 884.5 397.6 886.2 395 886C392.4 885.8 385.5 884.5 382.5 882.5C379.5 880.5 377.2 875.5 375 872.5C372.8 869.5 371.6 864.2 367.5 862.5C363.4 860.8 352.8 861 347.5 861C342.2 861 335.9 863 332.5 862.5C329.1 862 327.6 859.8 325 857.5C322.4 855.2 318.4 848.8 315 847.5C311.6 846.2 306.2 850.1 302.5 849C298.8 847.9 293.4 841.7 290 840C286.6 838.3 283.8 837.4 280 837.5C276.2 837.6 268.8 841.2 265 841C261.2 840.8 256.9 838 255 836C253.1 834 254.6 830 252.5 827.5C250.4 825 243.6 820.1 241 819C238.4 817.9 236.8 818.5 235 820C233.2 821.5 232.2 826.9 229 829C225.8 831.1 216.5 835 214 834C211.5 833 215.3 825 212.5 822.5C209.7 820 199.3 820.1 195 817.5C190.7 814.9 185.9 808.4 184 805C182.1 801.6 183.8 798 182.5 795C181.2 792 178 788.4 175 785C172 781.6 165.5 775.6 162.5 772.5C159.5 769.4 154.2 768.1 155 764C155.8 759.9 164.3 750.1 167.5 745C170.7 739.9 174.3 735.2 176 730C177.7 724.8 176.2 716 179 710C181.8 704 190.3 695.7 195 690C199.7 684.3 206.1 676.4 210 672C213.9 667.6 218.9 665.4 221 661C223.1 656.6 223.8 647.9 224 642.5C224.2 637.1 221.6 629.9 222.5 625C223.4 620.1 227.4 613 230 610C232.6 607 236.4 607.2 240 605C243.6 602.8 245 599.5 254 595C263 590.5 286.4 582.5 300 575C313.6 567.5 336.4 553.8 345 545C353.6 536.2 355.6 522.3 357.6 516.6C359.6 510.9 358.4 509.9 358.4 507C358.4 504.1 358.1 499.2 357.6 497C357.1 494.8 356.2 493.8 355.1 492C354 490.2 351 487.3 350.1 485.3C349.2 483.3 348.7 480.1 349.2 478.6C349.7 477.1 351.8 476.5 353.4 475.2C355 473.9 358.7 472.2 360.1 470.2C361.5 468.2 362.6 464.6 362.6 461.9C362.6 459.2 361.2 455.2 360.1 451.9C359 448.6 356.9 443.7 355.1 440.2C353.3 436.7 350.4 432 348.4 428.5C346.4 425 343.3 420.3 341.7 416.8C340.1 413.3 338.5 408.6 337.6 405.1C336.7 401.6 335.6 397.2 335.4 393.5C335.2 389.8 336.3 383.4 336.4 380.1C336.5 376.8 336.5 373.9 335.9 371.8C335.3 369.7 332.9 367.5 332.5 365.9C332.1 364.3 332.3 362.3 333.4 360.9C334.5 359.5 338.1 357.8 340.1 356.7C342.1 355.6 345.2 353.6 346.7 353.7Z" fill="#23e5db"/>
<g class="b">
<path d="M500.3 332.5C499.7 334 496 339.5 496 342.5C496 345.5 499.6 350.3 500 352.5C500.4 354.7 499.1 356.3 499 357"/>
<path d="M355.1 492C356.3 492.5 360.9 494.3 363.4 495.3C365.9 496.3 369 497.6 371.8 498.6C374.6 499.6 379.3 500.5 381.8 502C384.3 503.5 386.7 506.6 388.5 508.6C390.3 510.6 392.3 513 393.5 515.3C394.7 517.6 395.6 521.5 396.8 523.7C398 526 399.8 528.7 401.8 530.3C403.8 531.9 407.4 533.8 410.2 534.5C413 535.2 417.7 535.3 420.2 535.3C422.7 535.3 425.4 533.8 426.9 534.5C428.4 535.2 429.7 539.2 430.2 540"/>
<path d="M507.8 405.1C508.4 405.9 510.9 408.4 512 410.2C513.1 412 514.1 415.1 515.3 416.8C516.5 418.5 518.7 420.5 520.3 421.8C521.9 423.1 524.8 423.9 526.2 425.2C527.6 426.5 529.4 428.8 529.5 430.2C529.6 431.6 528.6 433.5 527 434.4C525.4 435.3 520.5 435.2 518.7 436C516.9 436.8 515.1 438.4 515.3 439.4C515.5 440.4 518.5 441.8 520.3 442.7C522.1 443.6 525.4 444.1 527 445.2C528.6 446.3 530.7 448.7 531.2 450.2C531.7 451.7 531.4 453.8 530.3 455.2C529.2 456.6 525.4 458.1 523.7 459.4C522 460.7 519.2 462.2 518.7 463.6C518.2 465 519.8 467.1 520.3 468.6C520.8 470.1 522.8 472.1 522 473.6C521.2 475.1 516.8 476.8 515.3 478.6C513.8 480.4 513 483.3 512 485.3C511 487.3 509.4 489.6 508.6 491.9C507.9 494.1 507.9 498.3 507 500.3C506.1 502.3 504.1 505 502.8 505.3C501.5 505.6 500 503.5 498.6 502C497.2 500.5 495.4 496.9 493.6 495.3C491.8 493.7 489.4 491.5 486.9 491.1C484.4 490.7 479.9 492.3 476.9 492.8C473.9 493.3 468.8 493.5 466.9 494.4C465 495.3 464.7 497.2 464.4 498.6C464.1 500 466.1 503.1 465.2 503.6C464.3 504.1 460 501.5 458.6 502C457.2 502.5 456.4 505.5 456.1 507C455.8 508.5 458.3 511.1 456.9 512C455.5 512.9 449.1 512 446.9 512.8C444.6 513.5 442.8 515.4 441.9 517C441 518.6 440.5 521.7 441 523.7C441.5 525.7 444.1 528.7 445.2 530.3C446.3 531.9 448.9 533 448.6 534.5C448.3 536 444.3 539.2 443.5 540"/>
<path d="M309 699C310.6 698.8 316.9 698 320 697.5C323.1 697 326.2 696.4 330 696C333.8 695.6 341.2 695.8 345 695C348.8 694.2 352.1 691.9 355 691C357.9 690.1 362.5 690.3 364 689C365.5 687.7 366 684.6 365 682.5C364 680.4 357.6 678 357.5 675C357.4 672 362.9 665.9 364 662.5C365.1 659.1 363.9 655.3 365 652.5C366.1 649.7 368.8 645 371 644C373.2 643 377 645 380 646C383 647 389.4 650.2 391 651"/>
<path d="M280 710C280.6 711.1 283.9 714.5 284 717.5C284.1 720.5 281.6 726.2 281 730C280.4 733.8 278.6 738.8 280 742.5C281.4 746.2 287 752 290 755C293 758 297.8 759.9 300 762.5C302.2 765.1 303.1 769.5 305 772.5C306.9 775.5 309.5 781.8 312.5 782.5C315.5 783.2 322.4 777.1 325 777.5C327.6 777.9 328.9 782.4 330 785C331.1 787.6 330.2 792.8 332.5 795C334.8 797.2 341.6 797.8 345 800C348.4 802.2 352.4 806.6 355 810C357.6 813.4 360.9 818.4 362.5 822.5C364.1 826.6 365 834.1 366 837.5C367 840.9 368.8 841.2 369 845C369.2 848.8 367.7 859.9 367.5 862.5"/>
<path d="M391 651C391.6 650.1 392.9 647 395 645C397.1 643 401.6 639.8 405 637.5C408.4 635.2 414.5 632.6 417.5 630C420.5 627.4 423.1 623 425 620C426.9 617 428.1 612.2 430 610C431.9 607.8 435.2 605.8 437.5 605C439.8 604.2 443.9 605 445 605"/>
<path d="M391 651C392 652.7 396.1 658.9 397.5 662.5C398.9 666.1 399.2 671.2 400 675C400.8 678.8 401.9 683.8 402.5 687.5C403.1 691.2 402.5 696.6 404 700C405.5 703.4 410.1 706.2 412.5 710C414.9 713.8 417.4 721.1 420 725C422.6 728.9 426.6 733.6 430 736C433.4 738.4 439.5 740.4 442.5 741C445.5 741.6 447.8 738.6 450 740C452.2 741.4 455.2 747 457.5 750C459.8 753 463.5 756.9 465 760C466.5 763.1 467.1 769.4 467.5 771"/>
<path d="M467.5 771C469.4 771.6 476.6 773.3 480 775C483.4 776.7 486.2 781.1 490 782.5C493.8 783.9 500.5 783 505 784C509.5 785 515.9 787.7 520 789C524.1 790.3 529.1 791.8 532.5 792.5C535.9 793.2 541 793.8 542.5 794"/>
<path d="M467.5 771C467 772.7 464.4 778.9 464 782.5C463.6 786.1 465.6 791.8 465 795C464.4 798.2 463 802.4 460 804C457 805.6 449.1 804.7 445 806C440.9 807.3 435.9 810 432.5 812.5C429.1 815 425.1 820.2 422.5 822.5C419.9 824.8 416.9 825.2 415 827.5C413.1 829.8 412.2 834.9 410 837.5C407.8 840.1 402.2 842.4 400 845C397.8 847.6 395.6 852 395 855C394.4 858 395.4 862 396 865C396.6 868 399 872 399 875C399 878 396.4 883.5 396 885"/>
<path d="M532.5 625C532.1 626.1 531.1 628.8 530 632.5C528.9 636.2 526.1 645.1 525 650C523.9 654.9 522.4 660.5 522.5 665C522.6 669.5 526 673.2 526 680C526 686.8 523.2 703.2 522.5 710C521.8 716.8 521.4 719 521 725C520.6 731 519.8 743.2 520 750C520.2 756.8 521 765.5 522.5 770C524 774.5 528.5 776.6 530 780C531.5 783.4 532.1 790.6 532.5 792.5"/>
<path d="M663.7 394.2C663.1 395.1 661.5 398.8 660 400.1C658.5 401.4 654.8 401.5 653.4 402.6C652 403.7 650.6 405.8 650.8 407.6C651 409.4 654.9 412.4 655 414.3C655.1 416.2 652.9 418.7 651.7 420.1C650.5 421.5 647.6 422.1 646.7 423.4C645.8 424.7 645.4 427.1 645.8 428.5C646.2 429.9 649.2 431.1 649.2 432.6C649.2 434.1 646.9 437.2 645.8 438.5C644.7 439.8 642.6 439.5 641.7 441C640.8 442.5 641 446.4 640 448.4C639 450.4 636.4 453.8 635.2 454.3C634 454.8 633.7 451.5 632.2 451.9C630.7 452.3 626.8 455.1 625.5 456.9C624.2 458.7 623.5 461.6 623.8 463.6C624.1 465.6 626.3 468.2 627.2 470.2C628.1 472.2 629.6 474.6 629.7 476.9C629.8 479.2 628.4 483.1 628 485.3C627.6 487.6 627.1 489.9 627.2 491.9C627.3 493.9 629.1 496.6 628.8 498.6C628.5 500.6 626.5 503.5 625.5 505.3C624.5 507.1 622.8 508.5 622.2 510.3C621.6 512.1 621.8 515.2 621.3 517C620.8 518.8 619.2 521.2 618.8 522"/>
<path d="M618.8 522C617.8 521.7 613.9 520.4 612.1 520.3C610.3 520.2 608.6 520.6 607.1 521.2C605.6 521.8 604.1 523.9 602.1 524.5C600.1 525.1 596.5 524.7 593.8 525.3C591.1 525.9 586.3 527.3 583.8 528.7C581.3 530.1 578.6 532.8 577.1 534.5C575.6 536.2 574.2 539.2 573.7 540"/>
<path d="M618.8 522C619.3 522.8 620.9 525.5 622.2 527C623.5 528.5 626.1 530.2 627.2 532C628.3 533.8 629.7 536.7 629.7 538.7C629.7 540.7 627.2 543.7 627.2 545.4C627.2 547.1 628.5 548.2 629.7 550C630.9 551.8 633.1 555.2 635 557.5C636.9 559.8 640.2 563.1 642.5 565C644.8 566.9 647.8 567.8 650 570C652.2 572.2 656 577 657.5 580C659 583 661.1 587 660 590C658.9 593 651.9 597 650 600C648.1 603 646.8 607 647.5 610C648.2 613 652.8 617 655 620C657.2 623 660.6 627.8 662.5 630C664.4 632.2 666.8 634.2 667.5 635"/>
<path d="M667.5 635C669.4 634.6 676.6 633.6 680 632.5C683.4 631.4 686.2 627.7 690 627.5C693.8 627.3 700.5 631 705 631C709.5 631 715.5 627.6 720 627.5C724.5 627.4 730.5 630.2 735 630C739.5 629.8 746.6 626.9 750 626C753.4 625.1 755.4 625 757.5 624C759.6 623 762.1 618.5 764 619C765.9 619.5 768.5 624.7 770 627.5C771.5 630.3 773.9 634.9 774 637.5C774.1 640.1 770.5 642.5 771 645C771.5 647.5 774.6 652.4 777.5 654C780.4 655.6 785.9 655.9 790 656C794.1 656.1 800.9 655.5 805 655C809.1 654.5 815.6 652.9 817.5 652.5"/>
<path d="M815.3 418.4C814.8 419.4 813.4 423.5 811.9 425.1C810.4 426.7 806.6 427.5 805.2 429.3C803.8 431.1 802.7 434.4 802.7 436.8C802.7 439.2 804.1 443.1 805.2 445.1C806.3 447.1 808.5 449.5 810.3 450.1C812.1 450.7 815.2 448.7 816.9 449.3C818.6 449.9 820.7 452.7 821.9 454.3C823.1 455.9 825 458.3 824.9 460.2C824.8 462.1 822.2 464.9 821.1 466.8C820 468.7 818.7 471.2 817.8 472.7C816.9 474.2 815.1 475.3 815.3 476.9C815.5 478.5 818 481.6 819.4 483.5C820.8 485.4 823.3 487.9 824.4 489.4C825.5 490.9 827.1 492 826.9 493.5C826.7 495 823.3 497.9 822.8 499.4C822.3 500.9 822.6 502.5 823.6 503.6C824.6 504.7 828.5 505.7 829.5 506.9C830.5 508.1 830.8 510.1 830.3 511.9C829.8 513.7 827.5 516.8 826.1 518.6C824.7 520.4 821.9 523.2 821.1 524"/>
<path d="M832.5 607.5C833.2 608.2 837.9 609.9 837.5 612.5C837.1 615.1 832.6 621.6 830 625C827.4 628.4 821.7 630.9 820 635C818.3 639.1 818.7 649.9 818.5 652.5"/>
<path d="M667.5 635C667.3 636.9 666 644.1 666 647.5C666 650.9 668 654.5 667.5 657.5C667 660.5 662.5 664.5 662.5 667.5C662.5 670.5 666.4 674.1 667.5 677.5C668.6 680.9 669 686.2 670 690C671 693.8 674 699.5 674 702.5C674 705.5 671.4 708 670 710C668.6 712 665.8 715.1 665 716"/>
<path d="M817.5 652.5C818.2 654.4 821.4 661.6 822.5 665C823.6 668.4 825.5 671.6 825 675C824.5 678.4 819.8 684.1 819 687.5C818.2 690.9 818.4 694.9 820 697.5C821.6 700.1 827.5 703 830 705C832.5 707 836 710.1 837 711"/>
<path d="M835 757C835.4 758.6 835.6 764.8 837.5 767.5C839.4 770.2 845.6 772.4 847.5 775C849.4 777.6 848.1 782 850 785C851.9 788 858.1 792.8 860 795C861.9 797.2 861.8 797.4 862.5 800C863.2 802.6 864.6 810.6 865 812.5"/>
<path d="M857.5 711C857.9 709.7 858.1 704.1 860 702.5C861.9 700.9 866.6 699.6 870 700C873.4 700.4 878.8 704.2 882.5 705C886.2 705.8 891.6 706.1 895 705C898.4 703.9 901.2 699 905 697.5C908.8 696 915.9 695 920 695C924.1 695 928.8 698.2 932.5 697.5C936.2 696.8 942.4 691.7 945 690C947.6 688.3 947 687.9 950 686C953 684.1 962.4 680.6 965 677.5C967.6 674.4 966.8 668.8 967.5 665C968.2 661.2 968.5 656.6 970 652.5C971.5 648.4 976 641.2 977.5 637.5C979 633.8 979.6 629.4 980 628"/>
<path d="M930 580C931.5 581.1 936.5 585.2 940 587.5C943.5 589.8 951 593.9 953 595"/>
<path d="M907.9 443.5C908.2 445 909 450.5 909.6 453.5C910.2 456.5 911.2 460.8 912.1 463.5C913 466.2 914.6 470.2 915.4 471.8C916.1 473.4 917 472.6 917.1 474.4C917.2 476.2 916.6 480.9 916.3 483.5C916 486.1 915.9 489.6 915.4 491.9C914.9 494.2 913.8 496.6 912.9 498.6C912 500.6 910.4 502.9 909.6 505.2C908.9 507.4 908.2 510.8 907.9 513.6C907.6 516.4 907.9 522.4 907.9 524"/>
<path d="M917.1 474.4C917.9 475 920.9 476.9 922.1 478.5C923.3 480.1 924 483.4 925.4 485.2C926.8 487 930.3 488.4 931.3 490.2C932.3 492 931.5 495.1 932.1 496.9C932.7 498.7 933.4 501 935.4 501.9C937.4 502.8 942.7 502.4 945.5 502.7C948.3 503 951.3 503.2 953.8 503.6C956.3 504 960.3 504.2 962.1 505.2C963.9 506.2 964.4 508.4 965.5 510.2C966.6 512 968.8 514.6 969.7 516.9C970.6 519.2 970.7 523 971.3 525.3C971.9 527.5 972.5 530.2 973.8 531.9C975.1 533.6 977.3 536.4 980 536.9C982.7 537.4 988.7 534.5 992 535C995.3 535.5 999 540.8 1002 540C1005 539.2 1008.6 532.4 1012 530C1015.4 527.6 1021.1 524 1024.5 524C1027.9 524 1031.9 528 1034.5 530C1037.1 532 1041.2 535.2 1042 537.5C1042.8 539.8 1038.6 542.8 1039.5 545C1040.4 547.2 1045.8 550.6 1048 552.5C1050.2 554.4 1053.5 556.8 1054.5 557.5"/>
<path d="M1054.5 557.5C1056 556.5 1061.9 552.1 1064.5 551C1067.1 549.9 1069.8 549 1072 550C1074.2 551 1076.5 556.6 1079.5 557.5C1082.5 558.4 1087.5 556.8 1092 556C1096.5 555.2 1105.8 554.1 1109.5 552.5C1113.2 550.9 1114 547.8 1117 545C1120 542.2 1125.8 536.1 1129.5 534C1133.2 531.9 1138.9 531.5 1142 531C1145.1 530.5 1148.8 531 1150 531"/>
<path d="M1054.5 557.5C1053.5 559 1049.1 563.8 1048 567.5C1046.9 571.2 1047.2 579.8 1047 582"/>
<path d="M1149.5 287.5C1149.4 288.9 1149.3 294.1 1148.7 296.7C1148.1 299.3 1145.7 302.9 1145.4 305.1C1145.1 307.4 1147 309.4 1147 311.7C1147 313.9 1146 317.6 1145.4 320.1C1144.8 322.6 1142.7 326.4 1142.9 328.4C1143.1 330.4 1145.6 332 1147 333.4C1148.4 334.8 1151.5 336.1 1152 337.6C1152.5 339.1 1151.9 342 1150.4 343.4C1148.9 344.8 1144.5 345.9 1142 346.8C1139.5 347.7 1136 348.1 1133.7 349.3C1131.5 350.5 1128.3 353.2 1127 355.1C1125.7 357 1125 359.5 1125.3 361.8C1125.6 364.1 1127.4 368.2 1128.7 370.2C1130 372.2 1132.8 373.6 1133.7 375.2C1134.6 376.8 1133.5 379.3 1134.5 381C1135.5 382.7 1139.3 385.2 1140.3 386.8C1141.3 388.4 1141.7 390.3 1141.2 391.8C1140.7 393.3 1138.1 395.1 1137 396.9C1135.9 398.7 1134.3 401.5 1133.7 403.5C1133.1 405.5 1133.5 408.2 1132.8 410.2C1132 412.2 1130.1 415.8 1128.7 416.9C1127.3 418 1124.7 416.7 1123.7 417.7C1122.7 418.7 1121.9 421.7 1122 423.6C1122.1 425.5 1124.5 427.7 1124.5 430.2C1124.5 432.7 1122.9 437.5 1122 440.3C1121.1 443.1 1119.2 446.6 1118.6 448.6C1118 450.6 1117.3 451.8 1117.8 453.6C1118.3 455.4 1120.6 458.7 1122 460.3C1123.4 461.9 1126 463 1127 464.5C1128 466 1127.5 468.9 1128.7 470.3C1129.9 471.7 1133.4 472.4 1135.3 473.6C1137.2 474.8 1140.5 476.8 1141.2 478.6C1142 480.4 1140.9 483.3 1140.3 485.3C1139.7 487.3 1137.1 490 1137 492C1136.9 494 1138.6 496.9 1139.5 498.7C1140.4 500.5 1142.4 502 1142.8 503.7C1143.2 505.4 1142.5 507.9 1142 510C1141.5 512.1 1141 514.1 1139.5 517.5C1138 520.9 1133.1 530.2 1132 532.5"/>
<path d="M1130 535C1133 534.4 1144.8 530.4 1150 531C1155.2 531.6 1161.2 538 1165 539C1168.8 540 1172 537.2 1175 537.5C1178 537.8 1182 540.6 1185 541C1188 541.4 1192.8 541.6 1195 540C1197.2 538.4 1198.1 531.9 1200 530C1201.9 528.1 1204.9 526.8 1207.5 527.5C1210.1 528.2 1214.5 534.6 1217.5 535C1220.5 535.4 1224.9 529.2 1227.5 530C1230.1 530.8 1232.8 537 1235 540C1237.2 543 1239.9 546.9 1242.5 550C1245.1 553.1 1249.9 558.6 1252.5 561C1255.1 563.4 1255.9 564.4 1260 566C1264.1 567.6 1274 570.6 1280 572C1286 573.4 1297 574.5 1300 575"/>
<path d="M1361 552.7C1360.6 553.3 1359.9 555.8 1358.5 556.9C1357.1 558 1354.1 560 1351.8 560.2C1349.5 560.4 1345.9 559.2 1343.4 558.5C1340.9 557.8 1337.3 555.3 1335.1 555.2C1332.8 555.1 1330.2 556.5 1328.4 557.7C1326.6 558.9 1325.2 561.9 1323.4 563.5C1321.6 565.1 1318.7 567.2 1316.7 568.5C1314.7 569.8 1311.5 570.9 1310 571.9C1308.5 572.9 1308.2 574.6 1306.7 575.2C1305.2 575.8 1301 575.5 1300 575.6"/>
<path d="M1300 614.9C1301 615.1 1305.1 615.3 1306.7 616.1C1308.3 616.9 1309.1 619.2 1310.9 620.3C1312.7 621.4 1316.8 622.1 1318.4 623.6C1320 625.1 1320.8 628 1321.7 630.3C1322.6 632.5 1322.9 636.6 1324.2 638.6C1325.5 640.6 1328.2 642.8 1330.1 643.7C1332 644.6 1334.9 644.8 1336.8 644.5C1338.7 644.2 1341.2 641.6 1342.6 642C1344 642.4 1345.3 645.2 1345.9 647C1346.5 648.8 1347.3 651.8 1346.8 653.7C1346.3 655.6 1342.7 658 1342.6 659.5C1342.5 661 1346 662.6 1345.9 663.7C1345.8 664.8 1343.4 666.2 1341.8 667C1340.2 667.8 1336 667 1335 669C1334 671 1335.8 676.9 1335 680C1334.2 683.1 1333 687.8 1330 690C1327 692.2 1318.6 693.1 1315 695C1311.4 696.9 1307.3 700.2 1306 702.5C1304.7 704.8 1308.4 708.7 1306 710C1303.6 711.3 1292.8 710.1 1290 711C1287.2 711.9 1287.9 715.2 1287.5 716"/>
<path d="M1080 630C1081.1 631.5 1085.2 637 1087.5 640C1089.8 643 1092.5 647 1095 650C1097.5 653 1102.5 656.2 1104 660C1105.5 663.8 1104.5 670.9 1105 675C1105.5 679.1 1106 683.8 1107.5 687.5C1109 691.2 1113.1 696.6 1115 700C1116.9 703.4 1118.1 707.4 1120 710C1121.9 712.6 1126.4 716.4 1127.5 717.5"/>
<path d="M1127.5 717.5C1126.4 718.2 1121.9 720.2 1120 722.5C1118.1 724.8 1115.9 729.5 1115 732.5C1114.1 735.5 1115.1 740 1114 742.5C1112.9 745 1109.5 748.2 1107.5 749C1105.5 749.8 1102 747.7 1101 747.5"/>
<path d="M1127.5 717.5C1129.4 718.6 1136.2 723.1 1140 725C1143.8 726.9 1149.9 727.8 1152.5 730C1155.1 732.2 1156 737.4 1157.5 740C1159 742.6 1160.2 746 1162.5 747.5C1164.8 749 1169.1 750 1172.5 750C1175.9 750 1181.2 747.4 1185 747.5C1188.8 747.6 1194.1 749.5 1197.5 751C1200.9 752.5 1206 756.5 1207.5 757.5"/>
<path d="M1207.5 757.5C1209.4 757.9 1216.6 758.9 1220 760C1223.4 761.1 1226.6 763.4 1230 765C1233.4 766.6 1239.5 770.4 1242.5 771C1245.5 771.6 1248.7 770.5 1250 769C1251.3 767.5 1250.8 762.2 1251 761"/>
<path d="M1207.5 757.5C1207.3 758.6 1207.9 763.5 1206 765C1204.1 766.5 1198.2 766.9 1195 767.5C1191.8 768.1 1186.9 767.7 1185 769C1183.1 770.3 1181.8 774.4 1182.5 776C1183.2 777.6 1187.4 779.2 1190 780C1192.6 780.8 1198.1 779.9 1200 781C1201.9 782.1 1203.2 785.8 1202.5 787.5C1201.8 789.2 1198 791 1195 792.5C1192 794 1185.7 796 1182.5 797.5C1179.3 799 1175.5 800.2 1174 802.5C1172.5 804.8 1172.3 809.1 1172.5 812.5C1172.7 815.9 1174.2 822 1175 825C1175.8 828 1176.6 830.2 1177.5 832.5C1178.4 834.8 1181 837.8 1181 840C1181 842.2 1179.2 845.6 1177.5 847.5C1175.8 849.4 1172.6 851.4 1170 852.5C1167.4 853.6 1162.6 854.2 1160 855C1157.4 855.8 1154.4 856 1152.5 857.5C1150.6 859 1149.8 863 1147.5 865C1145.2 867 1139.5 869.4 1137.5 871C1135.5 872.6 1134.5 875.2 1134 876"/>
<path d="M1134 876C1134.5 877.7 1137.2 883.5 1137.5 887.5C1137.8 891.5 1135.8 898.8 1136 902.5C1136.2 906.2 1139.5 909.9 1139 912.5C1138.5 915.1 1133.2 917.4 1132.5 920C1131.8 922.6 1132.9 927.8 1134 930C1135.1 932.2 1138.2 933.8 1140 935C1141.8 936.2 1145.1 937.5 1146 938"/>
<path d="M1395 732.5C1396.1 734 1400.6 739.1 1402.5 742.5C1404.4 745.9 1405.2 751.6 1407.5 755C1409.8 758.4 1414.5 761.6 1417.5 765C1420.5 768.4 1425.5 773.4 1427.5 777.5C1429.5 781.6 1429.1 790.5 1431 792.5C1432.9 794.5 1438 792.9 1440 791C1442 789.1 1442.5 782.4 1444 780C1445.5 777.6 1447.6 775.4 1450 775C1452.4 774.6 1457.4 776.6 1460 777.5C1462.6 778.4 1466.4 780.5 1467.5 781"/>
<path d="M1301.2 855C1301.4 856.5 1301.6 861.6 1302.5 865C1303.4 868.4 1308.1 874.1 1307.5 877.5C1306.9 880.9 1299.2 884.5 1298.8 887.5C1298.4 890.5 1303.1 894.9 1305 897.5C1306.9 900.1 1310.5 902.4 1311.2 905C1312 907.6 1309.4 911.6 1310 915C1310.6 918.4 1314.4 924.3 1315 927.5C1315.6 930.7 1314 934.9 1313.8 936.2"/>
<path d="M1301.2 855C1302.5 855.2 1305.7 855.8 1310 856.2C1314.3 856.6 1323.2 858.1 1330 857.5C1336.8 856.9 1347.5 853.8 1355 852.5C1362.5 851.2 1374.8 848.4 1380 848.8C1385.2 849.2 1385.9 853.5 1390 855C1394.1 856.5 1404.1 856.5 1407.5 858.8C1410.9 861 1410.6 867.2 1412.5 870C1414.4 872.8 1419.2 875.7 1420 877.5C1420.8 879.3 1418.3 881.3 1418 882"/>
<path d="M1313.8 936.2C1312.5 936.6 1310.1 939.2 1305 938.8C1299.9 938.4 1286 934.1 1280 933.8C1274 933.5 1268.9 936.1 1265 937C1261.1 937.9 1257 938.3 1253.7 940C1250.4 941.7 1244.9 947.3 1243.3 948.6"/>
<path d="M1146 938C1147.6 938.6 1153.3 940.1 1156.4 941.7C1159.5 943.3 1163.2 949.2 1166.8 948.6C1170.4 948 1177.1 939.8 1180.7 938C1184.3 936.2 1188.9 935.5 1191 936.5C1193.1 937.5 1189.9 943.4 1194.6 945C1199.3 946.6 1215.1 946.5 1222.4 947C1229.7 947.5 1239.2 946.8 1243.3 948.6C1247.4 950.4 1249 956.2 1250 959C1251 961.8 1250 965.8 1250 967"/>
<path d="M1146 938C1146.8 940.1 1151.5 948.9 1151 952C1150.5 955.1 1143.6 956.8 1142.4 959C1141.2 961.2 1142.9 965.8 1143 967"/>
<path d="M1142.5 1014C1141.4 1014.9 1137.2 1018 1135 1020C1132.8 1022 1128.2 1025.2 1127.5 1027.5C1126.8 1029.8 1131.1 1033.1 1130 1035C1128.9 1036.9 1123 1038.9 1120 1040C1117 1041.1 1113 1042.9 1110 1042.5C1107 1042.1 1102.6 1038.6 1100 1037.5C1097.4 1036.4 1095.1 1034.6 1092.5 1035C1089.9 1035.4 1085.1 1038.9 1082.5 1040C1079.9 1041.1 1078 1042.3 1075 1042.5C1072 1042.7 1065.9 1039.9 1062.5 1041C1059.1 1042.1 1054.2 1047.2 1052.5 1050C1050.8 1052.8 1051.2 1058.5 1051 1060"/>
<path d="M1280 1007.5C1280.8 1008.5 1282.8 1012.5 1285 1014C1287.2 1015.5 1292.2 1015.5 1295 1017.5C1297.8 1019.5 1302.9 1024.5 1304 1027.5C1305.1 1030.5 1304.6 1034.5 1302.5 1037.5C1300.4 1040.5 1291.1 1044.5 1290 1047.5C1288.9 1050.5 1293.5 1054.5 1295 1057.5C1296.5 1060.5 1298.5 1065.2 1300 1067.5C1301.5 1069.8 1302.8 1072 1305 1072.5C1307.2 1073 1312.4 1070.2 1315 1071C1317.6 1071.8 1320.2 1075.5 1322.5 1077.5C1324.8 1079.5 1328.1 1081.5 1330 1084C1331.9 1086.5 1334.2 1092.5 1335 1094"/>
<path d="M890 860C889.6 861.1 888.4 865.2 887.5 867.5C886.6 869.8 884 872 884 875C884 878 886.6 884.6 887.5 887.5C888.4 890.4 889.6 893 890 894"/>
<path d="M942.5 965C942.7 966.2 942.5 970.4 944 973C945.5 975.6 949.7 980.7 952.5 982.5C955.3 984.3 960.5 983.5 962.5 985C964.5 986.5 964 990.6 966 992.5C968 994.4 974 995.2 976 997.5C978 999.8 979.3 1004.5 979 1007.5C978.7 1010.5 976.5 1015.5 974 1017.5C971.5 1019.5 965.7 1019.5 962.5 1021C959.3 1022.5 952.9 1025 952.5 1027.5C952.1 1030 958.1 1034.5 960 1037.5C961.9 1040.5 963.6 1044.1 965 1047.5C966.4 1050.9 968.4 1058.1 969 1060"/>
<path d="M760 862.5C761.1 861.4 765.2 855.8 767.5 855C769.8 854.2 772.8 857.9 775 857.5C777.2 857.1 780.2 852.7 782.5 852.5C784.8 852.3 788.1 854.5 790 856C791.9 857.5 792.4 861.3 795 862.5C797.6 863.7 802.6 864 807.5 864C812.4 864 824.1 863.9 827.5 862.5C830.9 861.1 828.5 856.9 830 855C831.5 853.1 834.5 851.1 837.5 850C840.5 848.9 847 847.5 850 847.5C853 847.5 854.9 848.7 857.5 850C860.1 851.3 863.8 854.5 867.5 856C871.2 857.5 879.1 859.4 882.5 860C885.9 860.6 888.9 860 890 860"/>
<path d="M890 860C891.5 859.4 895.5 856.9 900 856C904.5 855.1 915.5 854 920 854C924.5 854 925.5 856.5 930 856C934.5 855.5 944.4 851.5 950 851C955.6 850.5 963.4 851.6 967.5 852.5C971.6 853.4 976 856.3 977.5 857"/>
<path d="M837.5 850C838 847.9 839.9 839.8 841 836C842.1 832.2 842.9 827.8 845 825C847.1 822.2 852 819.4 855 817.5C858 815.6 863.5 813.2 865 812.5"/>
<path d="M865 812.5C866.5 812.1 871.2 810.8 875 810C878.8 809.2 886.6 809 890 807.5C893.4 806 894.5 801.5 897.5 800C900.5 798.5 907.4 800.1 910 797.5C912.6 794.9 912.8 785.9 915 782.5C917.2 779.1 921.2 776 925 775C928.8 774 935.1 775.2 940 776C944.9 776.8 953.4 780 957.5 780C961.6 780 964.6 776 967.5 776C970.4 776 975.6 779.4 977 780"/>
<path d="M1574.2 599.2C1573.7 600 1571.7 602.8 1570.9 604.2C1570.2 605.6 1569.2 607.3 1569.2 608.4C1569.2 609.5 1571.3 610.7 1570.9 611.7C1570.5 612.7 1567.7 614.1 1566.7 615.1C1565.7 616.1 1564.2 617.3 1564.2 618.4C1564.2 619.5 1565.5 621.5 1566.7 622.6C1567.9 623.7 1571.5 624.9 1572.5 625.9C1573.5 626.9 1574 628.2 1573.4 629.3C1572.8 630.4 1569.7 632 1568.4 633.4C1567.1 634.8 1566.1 637.1 1565 638.5C1563.9 639.9 1561.3 641.5 1560.9 642.6C1560.5 643.7 1562.9 644.7 1562.5 646C1562.1 647.3 1558.9 649.4 1558.4 651C1557.9 652.6 1558.5 655.4 1559.2 656.8C1560 658.2 1562.8 658.3 1563.4 660.1C1564 661.9 1563.3 666.2 1563.4 668.5C1563.5 670.8 1563.1 674 1564.2 675.2C1565.3 676.4 1569.8 676 1570.9 676.8C1572 677.5 1572.3 679.1 1571.7 680.2C1571.1 681.3 1567.7 683.2 1566.7 684.4C1565.7 685.6 1565.3 687.9 1565 688.5"/>
<path d="M1565 689.4C1564.2 689.9 1561.7 692.2 1560 692.7C1558.3 693.2 1555.7 693.2 1553.4 692.7C1551.2 692.2 1547 689.8 1545 689.4C1543 689 1541.9 689 1540 690.2C1538.1 691.4 1533.2 695.3 1532.5 697.5C1531.8 699.7 1536.5 702.4 1535 705C1533.5 707.6 1525.3 711.9 1522.5 715C1519.7 718.1 1517.1 723 1516 726C1514.9 729 1516.7 732.5 1515 735C1513.3 737.5 1508.2 740.4 1505 742.5C1501.8 744.6 1495.9 747.1 1494 749C1492.1 750.9 1494.6 754.1 1492.5 755C1490.4 755.9 1484.3 754.2 1480 755C1475.7 755.8 1466.4 759.2 1464 760"/>
<path d="M1566.7 689.4C1567 690.5 1567.1 695.2 1568.4 696.9C1569.7 698.6 1572.8 700.8 1575.1 701C1577.3 701.2 1581.5 698.4 1583.4 698.5C1585.3 698.6 1586.8 700.1 1587.6 701.9C1588.3 703.7 1588.5 708 1588.4 710.2C1588.3 712.5 1587.7 715.1 1586.7 716.9C1585.7 718.7 1582.2 720.5 1581.7 721.9C1581.2 723.3 1581.6 725.4 1583.4 726.1C1585.2 726.9 1591 726.7 1593.4 726.9C1595.8 727.1 1597.9 726.6 1599.3 727.7C1600.7 728.8 1601.2 732.6 1602.6 734.4C1604 736.2 1607.7 737.9 1608.4 739.4C1609.2 740.9 1607.1 742.8 1607.6 744.4C1608.1 746 1611.5 748.7 1611.8 750.3C1612.1 751.9 1610.4 753.7 1609.3 755.3C1608.2 756.9 1604.4 759.5 1604.3 761.1C1604.2 762.7 1607.4 764.2 1608.4 766.1C1609.4 768 1610 771.6 1610.9 773.7C1611.8 775.8 1613.7 778 1614.3 780.3C1614.9 782.5 1614.5 786.9 1615.1 788.7C1615.7 790.5 1617.2 791.4 1618.5 792C1619.8 792.6 1622.1 791.8 1623.6 792.5C1625.1 793.2 1627.1 795.6 1628.6 796.7C1630.1 797.8 1633.5 798.6 1633.6 800C1633.7 801.4 1630.1 804.4 1629.5 805.9C1628.9 807.4 1628.4 809 1629.5 810C1630.6 811 1635 811.4 1637 812.5C1639 813.6 1641.7 815.7 1642.8 817.5C1643.9 819.3 1643.4 822.7 1644.5 824.2C1645.6 825.7 1647.9 826.7 1650.3 827.6C1652.7 828.5 1658 829.2 1660.3 830.1C1662.5 831 1664 831.9 1665.3 833.4C1666.6 834.9 1667.2 838.5 1668.7 840.1C1670.2 841.7 1673.2 843.5 1675.4 844.2C1677.7 845 1681.7 844.3 1683.7 845.1C1685.7 845.9 1687.5 848.1 1688.7 849.3C1689.9 850.5 1691.5 852.8 1692 853.4"/>
<path d="M1464 760C1464.3 761.5 1465.5 766.9 1466 770C1466.5 773.1 1465 778.4 1467.5 781C1470 783.6 1480.1 786.1 1482.5 787.5C1484.9 788.9 1483.6 788.6 1483.4 790C1483.2 791.4 1481.7 794.5 1480.9 796.7C1480.2 799 1478.9 802.8 1478.4 805C1477.9 807.2 1477.3 809.8 1477.6 811.7C1477.9 813.6 1478.7 816.3 1480.1 817.5C1481.5 818.7 1485.1 818.7 1486.7 820C1488.3 821.3 1489.9 824.1 1490.9 825.9C1491.9 827.7 1493.7 829.8 1493.4 831.7C1493.1 833.6 1489.7 836.1 1489.2 838.4C1488.7 840.7 1490.2 844.7 1490.1 846.8C1490 848.9 1489.5 851.1 1488.4 852.6C1487.3 854.1 1484.5 856.5 1482.6 856.8C1480.7 857.1 1478.2 855.2 1475.9 854.3C1473.6 853.4 1469.6 851 1467.5 850.9C1465.4 850.8 1462.9 852 1461.7 853.4C1460.5 854.8 1459.2 858.2 1459.2 860.1C1459.2 862 1460.3 864.4 1461.7 865.9C1463.1 867.4 1467.5 868.8 1468.4 870.1C1469.3 871.4 1468.6 873.3 1467.5 874.3C1466.4 875.3 1462.1 875.8 1460.9 876.8C1459.7 877.8 1459.5 880.4 1459.2 881"/>
<path d="M1485.9 918.5C1486.8 919 1490.1 921.1 1491.7 921.9C1493.3 922.6 1495 923.3 1496.8 923.5C1498.6 923.7 1501.4 922.9 1503.4 923.5C1505.4 924.1 1508.1 926.3 1510.1 927.7C1512.1 929.1 1514.8 932.2 1516.8 932.7C1518.8 933.2 1521.9 930.7 1523.5 931C1525.1 931.3 1527.4 932.9 1527.6 934.4C1527.8 935.9 1525.5 939.1 1525.1 941.1C1524.7 943.1 1526.1 946.6 1525.1 947.7C1524.1 948.8 1520.1 947.9 1518.5 948.6C1516.9 949.4 1515.3 951.5 1514.3 952.7C1513.3 953.9 1513.3 956.3 1511.8 956.9C1510.3 957.5 1505.3 956 1504.3 956.9C1503.3 957.8 1504.7 961 1505.1 962.8C1505.5 964.6 1507.3 967.4 1506.8 968.6C1506.3 969.8 1503.3 970.7 1501.8 971.1C1500.3 971.5 1496.8 970.5 1496.8 971.1C1496.8 971.7 1500.3 974.2 1501.8 975.3C1503.3 976.4 1505.6 977.2 1506.8 978.6C1508 980 1509.1 982.9 1510.1 984.5C1511.1 986.1 1511.9 988.9 1513.4 989.5C1514.9 990.1 1518.6 988 1520.1 988.6C1521.6 989.2 1522.8 992.2 1523.5 993.6C1524.2 995 1525.8 996.7 1525.1 997.8C1524.3 998.9 1520 999.9 1518.5 1001.2C1517 1002.5 1515.7 1004.8 1515.1 1006.2C1514.5 1007.6 1514.4 1009.7 1514.3 1010.3"/>
</g>
<rect x="1647.3" y="694" width="34.4" height="9.4" fill="#3a77ff"/><rect x="1647.3" y="703.2" width="34.4" height="9.4" fill="#ffce32"/>
<rect x="1541.3" y="841.8" width="34.4" height="9.4" fill="#3a77ff"/><rect x="1541.3" y="851" width="34.4" height="9.4" fill="#ffce32"/>
<rect x="1243.8" y="1243.1" width="34.4" height="9.4" fill="#3a77ff"/><rect x="1243.8" y="1252.3" width="34.4" height="9.4" fill="#ffce32"/>
<rect x="368.4" y="782" width="1.8" height="200" fill="#032d34"/><circle cx="369.3" cy="984.85" r="9.3" fill="#032d34"/>
<path d="M134.5 187H612.5L616.5 191V275.5L612.5 279.5H134.5L130.5 275.5V191Z" fill="#23e5db"/>
<text id="t0" class="t" x="154.70" y="167.00" textLength="376.03" lengthAdjust="spacingAndGlyphs">МЕДІАННА</text>
<text id="t1" class="t" x="554.74" y="167.00" textLength="302.59" lengthAdjust="spacingAndGlyphs">ВАРТІСТЬ</text>
<text id="t2" class="t" x="880.02" y="167.00" textLength="271.05" lengthAdjust="spacingAndGlyphs">КУПІВЛІ</text>
<text id="t3" class="t" x="152.35" y="259.60" textLength="434.75" lengthAdjust="spacingAndGlyphs">1-КІМНАТНОЇ</text>
<text id="t4" class="t" x="638.98" y="259.60" textLength="348.66" lengthAdjust="spacingAndGlyphs">КВАРТИРИ</text>
<rect x="1490.3" y="347.8" width="46.1" height="46.4" rx="2" fill="#032d34"/><rect x="1551.8" y="369.8" width="19" height="2.7" fill="#032d34"/>
<text id="l0" class="l" x="1586.91" y="359.60" textLength="224.03" lengthAdjust="spacingAndGlyphs">Медіанна ціна</text>
<text id="l1" class="l" x="1588.71" y="403.10" textLength="352.64" lengthAdjust="spacingAndGlyphs">за листопад 2025, USD</text>
<text id="f0" class="f" x="154.98" y="1334.70" textLength="514.86" lengthAdjust="spacingAndGlyphs">Дані на вторинному ринку України,</text>
<text id="f1" class="f" x="155.08" y="1372.60" textLength="326.21" lengthAdjust="spacingAndGlyphs">листопад 2025 до 2024</text>
<path fill-rule="evenodd" fill="#002f34" d="M1594.5 1314.1a30.6 30.6 0 1 0 0 61.2a30.6 30.6 0 1 0 0-61.2ZM1594.5 1334.9a9.6 9.6 0 1 1 0 19.2a9.6 9.6 0 1 1 0-19.2Z"/>
<rect x="1630.9" y="1307.6" width="17.4" height="73.8" fill="#002f34"/>
<path fill="#002f34" d="M1655.1 1326H1668.3L1673.8 1332.2L1679.2 1326H1692.2V1337.5L1685.5 1344.5L1692.2 1351.5V1363H1679.2L1673.8 1356.8L1668.3 1363H1655.1V1351.5L1661.8 1344.5L1655.1 1337.5Z"/>
<text id="g0" class="g" x="1708.00" y="1352.40" textLength="152.49" lengthAdjust="spacingAndGlyphs">НЕРУХОМІСТЬ</text>
<rect x="514.2" y="311.2" width="156.5" height="48.7" rx="2.5" fill="#032d34"/>
<rect x="544.2" y="359.9" width="96.5" height="36.4" rx="1.5" fill="#03a6a1"/>
<g id="n0" class="n"><text x="538.41" y="348.35" textLength="20.45" lengthAdjust="spacingAndGlyphs">3</text><text x="558.64" y="348.35" textLength="21.48" lengthAdjust="spacingAndGlyphs">6</text><text x="584.71" y="348.35" textLength="20.97" lengthAdjust="spacingAndGlyphs">9</text><text x="605.83" y="348.35" textLength="20.45" lengthAdjust="spacingAndGlyphs">3</text><text x="626.06" y="348.35" textLength="21.48" lengthAdjust="spacingAndGlyphs">6</text></g>
<g id="p0" class="p"><text x="560.68" y="388.85" textLength="14.46" lengthAdjust="spacingAndGlyphs">+</text><path d="M576.38 367.45L583.07 367.45L583.07 389.15L577.59 389.15L577.59 373.48L575.79 373.48L575.79 368.62Z"/><text x="583.73" y="388.85" textLength="17.11" lengthAdjust="spacingAndGlyphs">0</text><text x="601.25" y="388.85" textLength="22.37" lengthAdjust="spacingAndGlyphs">%</text></g>
<rect x="350.5" y="357.5" width="156.5" height="48.7" rx="2.5" fill="#032d34"/>
<rect x="380.5" y="406.2" width="96.5" height="36.4" rx="1.5" fill="#03a6a1"/>
<g id="n1" class="n"><text x="377.09" y="394.60" textLength="20.45" lengthAdjust="spacingAndGlyphs">3</text><text x="396.99" y="394.60" textLength="19.42" lengthAdjust="spacingAndGlyphs">7</text><text x="420.37" y="394.60" textLength="19.42" lengthAdjust="spacingAndGlyphs">7</text><text x="439.42" y="394.60" textLength="20.49" lengthAdjust="spacingAndGlyphs">5</text><text x="460.03" y="394.60" textLength="20.97" lengthAdjust="spacingAndGlyphs">9</text></g>
<g id="p1" class="p"><text x="407.96" y="435.10" textLength="17.11" lengthAdjust="spacingAndGlyphs">0</text><text x="426.15" y="435.10" textLength="22.37" lengthAdjust="spacingAndGlyphs">%</text></g>
<rect x="950.2" y="359.5" width="156.5" height="48.7" rx="2.5" fill="#032d34"/>
<rect x="980.2" y="408.2" width="96.5" height="36.4" rx="1.5" fill="#03a6a1"/>
<g id="n2" class="n"><text x="974.37" y="396.60" textLength="21.27" lengthAdjust="spacingAndGlyphs">2</text><text x="995.19" y="396.60" textLength="20.97" lengthAdjust="spacingAndGlyphs">9</text><text x="1020.93" y="396.60" textLength="20.35" lengthAdjust="spacingAndGlyphs">8</text><text x="1041.24" y="396.60" textLength="20.97" lengthAdjust="spacingAndGlyphs">9</text><text x="1061.95" y="396.60" textLength="20.97" lengthAdjust="spacingAndGlyphs">9</text></g>
<g id="p2" class="p"><text x="996.67" y="437.10" textLength="14.46" lengthAdjust="spacingAndGlyphs">+</text><path d="M1012.52 415.70L1019.22 415.70L1019.22 437.40L1013.73 437.40L1013.73 421.73L1011.93 421.73L1011.93 416.87Z"/><text x="1020.04" y="437.10" textLength="17.11" lengthAdjust="spacingAndGlyphs">0</text><text x="1037.81" y="437.10" textLength="22.37" lengthAdjust="spacingAndGlyphs">%</text></g>
<rect x="1188.2" y="385" width="156.5" height="48.7" rx="2.5" fill="#032d34"/>
<rect x="1218.2" y="433.7" width="96.5" height="36.4" rx="1.5" fill="#03a6a1"/>
<g id="n3" class="n"><path d="M1227.52 394.50L1236.07 394.50L1236.07 422.40L1229.07 422.40L1229.07 402.20L1226.77 402.20L1226.77 396.00Z"/><text x="1237.53" y="422.10" textLength="20.35" lengthAdjust="spacingAndGlyphs">8</text><text x="1263.14" y="422.10" textLength="20.97" lengthAdjust="spacingAndGlyphs">9</text><path d="M1286.07 394.50L1294.62 394.50L1294.62 422.40L1287.62 422.40L1287.62 402.20L1285.32 402.20L1285.32 396.00Z"/><path d="M1297.71 394.50L1306.26 394.50L1306.26 422.40L1299.26 422.40L1299.26 402.20L1296.96 402.20L1296.96 396.00Z"/></g>
<g id="p3" class="p"><text x="1234.69" y="462.60" textLength="14.46" lengthAdjust="spacingAndGlyphs">+</text><path d="M1250.74 441.20L1257.44 441.20L1257.44 462.90L1251.96 462.90L1251.96 447.23L1250.16 447.23L1250.16 442.37Z"/><text x="1258.66" y="462.60" textLength="16.35" lengthAdjust="spacingAndGlyphs">2</text><text x="1276.05" y="462.60" textLength="22.37" lengthAdjust="spacingAndGlyphs">%</text></g>
<rect x="646.2" y="447.2" width="156.5" height="48.7" rx="2.5" fill="#032d34"/>
<rect x="676.2" y="495.9" width="96.5" height="36.4" rx="1.5" fill="#03a6a1"/>
<g id="n4" class="n"><text x="675.95" y="484.35" textLength="20.45" lengthAdjust="spacingAndGlyphs">3</text><text x="696.10" y="484.35" textLength="20.97" lengthAdjust="spacingAndGlyphs">9</text><text x="721.95" y="484.35" textLength="20.45" lengthAdjust="spacingAndGlyphs">3</text><text x="742.30" y="484.35" textLength="20.35" lengthAdjust="spacingAndGlyphs">8</text><path d="M764.47 456.75L773.02 456.75L773.02 484.65L766.02 484.65L766.02 464.45L763.72 464.45L763.72 458.25Z"/></g>
<g id="p4" class="p"><text x="693.19" y="524.85" textLength="14.46" lengthAdjust="spacingAndGlyphs">+</text><path d="M709.03 503.45L715.73 503.45L715.73 525.15L710.25 525.15L710.25 509.48L708.45 509.48L708.45 504.62Z"/><text x="716.72" y="524.85" textLength="16.35" lengthAdjust="spacingAndGlyphs">2</text><text x="733.76" y="524.85" textLength="22.37" lengthAdjust="spacingAndGlyphs">%</text></g>
<rect x="223.8" y="516.2" width="156.5" height="48.7" rx="2.5" fill="#032d34"/>
<rect x="253.8" y="565" width="96.5" height="36.4" rx="1.5" fill="#03a6a1"/>
<g id="n5" class="n"><text x="248.28" y="553.35" textLength="20.49" lengthAdjust="spacingAndGlyphs">5</text><text x="269.58" y="553.35" textLength="20.43" lengthAdjust="spacingAndGlyphs">4</text><text x="295.82" y="553.35" textLength="20.49" lengthAdjust="spacingAndGlyphs">5</text><text x="316.07" y="553.35" textLength="19.42" lengthAdjust="spacingAndGlyphs">7</text><text x="335.06" y="553.35" textLength="20.49" lengthAdjust="spacingAndGlyphs">5</text></g>
<g id="p5" class="p"><text x="274.58" y="593.85" textLength="14.46" lengthAdjust="spacingAndGlyphs">+</text><text x="289.37" y="593.85" textLength="15.71" lengthAdjust="spacingAndGlyphs">3</text><text x="305.92" y="593.85" textLength="22.37" lengthAdjust="spacingAndGlyphs">%</text></g>
<rect x="415" y="540" width="156.5" height="48.7" rx="2.5" fill="#032d34"/>
<rect x="445" y="588.7" width="96.5" height="36.4" rx="1.5" fill="#03a6a1"/>
<g id="n6" class="n"><text x="448.42" y="577.10" textLength="20.43" lengthAdjust="spacingAndGlyphs">4</text><path d="M471.74 549.50L480.29 549.50L480.29 577.40L473.29 577.40L473.29 557.20L470.99 557.20L470.99 551.00Z"/><text x="486.17" y="577.10" textLength="21.27" lengthAdjust="spacingAndGlyphs">2</text><text x="507.10" y="577.10" textLength="20.97" lengthAdjust="spacingAndGlyphs">9</text><path d="M529.82 549.50L538.37 549.50L538.37 577.40L531.37 577.40L531.37 557.20L529.07 557.20L529.07 551.00Z"/></g>
<g id="p6" class="p"><text x="461.40" y="617.60" textLength="14.46" lengthAdjust="spacingAndGlyphs">+</text><path d="M477.16 596.20L483.85 596.20L483.85 617.90L478.37 617.90L478.37 602.23L476.57 602.23L476.57 597.37Z"/><text x="485.06" y="617.60" textLength="15.71" lengthAdjust="spacingAndGlyphs">3</text><text x="501.47" y="617.60" textLength="22.37" lengthAdjust="spacingAndGlyphs">%</text></g>
<rect x="803.2" y="523.2" width="156.5" height="48.7" rx="2.5" fill="#032d34"/>
<rect x="833.2" y="572" width="96.5" height="36.4" rx="1.5" fill="#03a6a1"/>
<g id="n7" class="n"><text x="827.01" y="560.35" textLength="19.42" lengthAdjust="spacingAndGlyphs">7</text><text x="846.07" y="560.35" textLength="20.35" lengthAdjust="spacingAndGlyphs">8</text><text x="871.94" y="560.35" textLength="20.43" lengthAdjust="spacingAndGlyphs">4</text><text x="893.22" y="560.35" textLength="20.97" lengthAdjust="spacingAndGlyphs">9</text><text x="914.68" y="560.35" textLength="20.43" lengthAdjust="spacingAndGlyphs">4</text></g>
<g id="p7" class="p"><text x="850.22" y="600.85" textLength="14.46" lengthAdjust="spacingAndGlyphs">+</text><path d="M865.89 579.45L872.59 579.45L872.59 601.15L867.11 601.15L867.11 585.48L865.31 585.48L865.31 580.62Z"/><text x="873.40" y="600.85" textLength="16.51" lengthAdjust="spacingAndGlyphs">6</text><text x="890.45" y="600.85" textLength="22.37" lengthAdjust="spacingAndGlyphs">%</text></g>
<rect x="952.8" y="580.8" width="156.5" height="48.7" rx="2.5" fill="#032d34"/>
<rect x="982.8" y="629.5" width="96.5" height="36.4" rx="1.5" fill="#03a6a1"/>
<g id="n8" class="n"><text x="979.04" y="617.85" textLength="20.45" lengthAdjust="spacingAndGlyphs">3</text><text x="999.08" y="617.85" textLength="20.97" lengthAdjust="spacingAndGlyphs">9</text><text x="1024.12" y="617.85" textLength="19.42" lengthAdjust="spacingAndGlyphs">7</text><text x="1042.53" y="617.85" textLength="19.42" lengthAdjust="spacingAndGlyphs">7</text><text x="1060.99" y="617.85" textLength="22.25" lengthAdjust="spacingAndGlyphs">0</text></g>
<g id="p8" class="p"><text x="999.68" y="658.35" textLength="14.46" lengthAdjust="spacingAndGlyphs">+</text><path d="M1015.53 636.95L1022.22 636.95L1022.22 658.65L1016.74 658.65L1016.74 642.98L1014.94 642.98L1014.94 638.12Z"/><text x="1023.53" y="658.35" textLength="15.71" lengthAdjust="spacingAndGlyphs">3</text><text x="1040.12" y="658.35" textLength="22.37" lengthAdjust="spacingAndGlyphs">%</text></g>
<rect x="1144.5" y="567.2" width="156.5" height="48.7" rx="2.5" fill="#032d34"/>
<rect x="1174.5" y="616" width="96.5" height="36.4" rx="1.5" fill="#03a6a1"/>
<g id="n9" class="n"><text x="1170.55" y="604.35" textLength="20.45" lengthAdjust="spacingAndGlyphs">3</text><text x="1191.12" y="604.35" textLength="20.45" lengthAdjust="spacingAndGlyphs">3</text><text x="1215.83" y="604.35" textLength="19.42" lengthAdjust="spacingAndGlyphs">7</text><text x="1234.37" y="604.35" textLength="19.42" lengthAdjust="spacingAndGlyphs">7</text><text x="1252.96" y="604.35" textLength="22.25" lengthAdjust="spacingAndGlyphs">0</text></g>
<g id="p9" class="p"><text x="1192.05" y="644.85" textLength="14.46" lengthAdjust="spacingAndGlyphs">+</text><path d="M1208.07 623.45L1214.76 623.45L1214.76 645.15L1209.28 645.15L1209.28 629.48L1207.48 629.48L1207.48 624.62Z"/><text x="1215.71" y="644.85" textLength="14.89" lengthAdjust="spacingAndGlyphs">7</text><text x="1231.50" y="644.85" textLength="22.37" lengthAdjust="spacingAndGlyphs">%</text></g>
<rect x="1356.8" y="590" width="156.5" height="48.7" rx="2.5" fill="#032d34"/>
<rect x="1386.8" y="638.7" width="96.5" height="36.4" rx="1.5" fill="#03a6a1"/>
<g id="n10" class="n"><text x="1379.45" y="627.10" textLength="21.27" lengthAdjust="spacingAndGlyphs">2</text><text x="1400.14" y="627.10" textLength="22.25" lengthAdjust="spacingAndGlyphs">0</text><text x="1427.07" y="627.10" textLength="20.35" lengthAdjust="spacingAndGlyphs">8</text><text x="1448.26" y="627.10" textLength="20.43" lengthAdjust="spacingAndGlyphs">4</text><text x="1469.88" y="627.10" textLength="20.49" lengthAdjust="spacingAndGlyphs">5</text></g>
<g id="p10" class="p"><text x="1403.16" y="667.60" textLength="14.46" lengthAdjust="spacingAndGlyphs">+</text><path d="M1419.12 646.20L1425.82 646.20L1425.82 667.90L1420.34 667.90L1420.34 652.23L1418.53 652.23L1418.53 647.37Z"/><text x="1427.11" y="667.60" textLength="15.74" lengthAdjust="spacingAndGlyphs">5</text><text x="1444.20" y="667.60" textLength="22.37" lengthAdjust="spacingAndGlyphs">%</text></g>
<rect x="152.5" y="662" width="156.5" height="48.7" rx="2.5" fill="#032d34"/>
<rect x="182.5" y="710.7" width="96.5" height="36.4" rx="1.5" fill="#03a6a1"/>
<g id="n11" class="n"><text x="178.50" y="699.10" textLength="20.49" lengthAdjust="spacingAndGlyphs">5</text><text x="199.35" y="699.10" textLength="20.97" lengthAdjust="spacingAndGlyphs">9</text><text x="225.19" y="699.10" textLength="20.97" lengthAdjust="spacingAndGlyphs">9</text><text x="245.83" y="699.10" textLength="19.42" lengthAdjust="spacingAndGlyphs">7</text><text x="264.61" y="699.10" textLength="19.42" lengthAdjust="spacingAndGlyphs">7</text></g>
<g id="p11" class="p"><text x="194.39" y="739.60" textLength="14.46" lengthAdjust="spacingAndGlyphs">+</text><text x="209.05" y="739.60" textLength="16.51" lengthAdjust="spacingAndGlyphs">6</text><text x="225.77" y="739.60" textLength="17.11" lengthAdjust="spacingAndGlyphs">0</text><text x="243.74" y="739.60" textLength="22.37" lengthAdjust="spacingAndGlyphs">%</text></g>
<rect x="295.5" y="1003.5" width="156.5" height="48.7" rx="2.5" fill="#032d34"/>
<rect x="325.5" y="1052.2" width="96.5" height="36.4" rx="1.5" fill="#03a6a1"/>
<g id="n12" class="n"><text x="319.30" y="1040.60" textLength="20.49" lengthAdjust="spacingAndGlyphs">5</text><text x="341.00" y="1040.60" textLength="20.43" lengthAdjust="spacingAndGlyphs">4</text><text x="367.21" y="1040.60" textLength="19.42" lengthAdjust="spacingAndGlyphs">7</text><text x="386.13" y="1040.60" textLength="22.25" lengthAdjust="spacingAndGlyphs">0</text><text x="408.58" y="1040.60" textLength="20.45" lengthAdjust="spacingAndGlyphs">3</text></g>
<g id="p12" class="p"><text x="338.87" y="1081.10" textLength="14.46" lengthAdjust="spacingAndGlyphs">+</text><text x="353.54" y="1081.10" textLength="15.71" lengthAdjust="spacingAndGlyphs">3</text><text x="369.50" y="1081.10" textLength="15.74" lengthAdjust="spacingAndGlyphs">5</text><text x="386.20" y="1081.10" textLength="22.37" lengthAdjust="spacingAndGlyphs">%</text></g>
<rect x="512.5" y="715" width="156.5" height="48.7" rx="2.5" fill="#032d34"/>
<rect x="542.5" y="763.7" width="96.5" height="36.4" rx="1.5" fill="#03a6a1"/>
<g id="n13" class="n"><text x="536.20" y="752.10" textLength="20.45" lengthAdjust="spacingAndGlyphs">3</text><text x="557.16" y="752.10" textLength="20.43" lengthAdjust="spacingAndGlyphs">4</text><text x="583.66" y="752.10" textLength="20.45" lengthAdjust="spacingAndGlyphs">3</text><text x="603.85" y="752.10" textLength="20.97" lengthAdjust="spacingAndGlyphs">9</text><text x="624.53" y="752.10" textLength="21.48" lengthAdjust="spacingAndGlyphs">6</text></g>
<g id="p13" class="p"><text x="559.47" y="792.60" textLength="14.46" lengthAdjust="spacingAndGlyphs">+</text><path d="M575.14 771.20L581.84 771.20L581.84 792.90L576.36 792.90L576.36 777.23L574.56 777.23L574.56 772.37Z"/><text x="582.65" y="792.60" textLength="16.51" lengthAdjust="spacingAndGlyphs">6</text><text x="599.70" y="792.60" textLength="22.37" lengthAdjust="spacingAndGlyphs">%</text></g>
<rect x="708.2" y="710.8" width="156.5" height="48.7" rx="2.5" fill="#032d34"/>
<rect x="738.2" y="759.5" width="96.5" height="36.4" rx="1.5" fill="#03a6a1"/>
<g id="n14" class="n"><text x="737.07" y="747.85" textLength="20.43" lengthAdjust="spacingAndGlyphs">4</text><text x="758.30" y="747.85" textLength="20.97" lengthAdjust="spacingAndGlyphs">9</text><text x="784.15" y="747.85" textLength="20.45" lengthAdjust="spacingAndGlyphs">3</text><text x="804.50" y="747.85" textLength="20.49" lengthAdjust="spacingAndGlyphs">5</text><path d="M826.99 720.25L835.54 720.25L835.54 748.15L828.54 748.15L828.54 727.95L826.24 727.95L826.24 721.75Z"/></g>
<g id="p14" class="p"><text x="754.56" y="788.35" textLength="14.46" lengthAdjust="spacingAndGlyphs">+</text><path d="M770.35 766.95L777.05 766.95L777.05 788.65L771.57 788.65L771.57 772.98L769.77 772.98L769.77 768.12Z"/><text x="778.16" y="788.35" textLength="15.74" lengthAdjust="spacingAndGlyphs">5</text><text x="794.96" y="788.35" textLength="22.37" lengthAdjust="spacingAndGlyphs">%</text></g>
<rect x="946" y="719.5" width="156.5" height="48.7" rx="2.5" fill="#032d34"/>
<rect x="976" y="768.2" width="96.5" height="36.4" rx="1.5" fill="#03a6a1"/>
<g id="n15" class="n"><text x="970.70" y="756.60" textLength="21.27" lengthAdjust="spacingAndGlyphs">2</text><text x="991.23" y="756.60" textLength="19.42" lengthAdjust="spacingAndGlyphs">7</text><text x="1014.95" y="756.60" textLength="20.97" lengthAdjust="spacingAndGlyphs">9</text><text x="1035.66" y="756.60" textLength="21.48" lengthAdjust="spacingAndGlyphs">6</text><text x="1057.08" y="756.60" textLength="20.49" lengthAdjust="spacingAndGlyphs">5</text></g>
<g id="p15" class="p"><text x="992.57" y="797.10" textLength="14.46" lengthAdjust="spacingAndGlyphs">+</text><path d="M1008.36 775.70L1015.06 775.70L1015.06 797.40L1009.58 797.40L1009.58 781.73L1007.78 781.73L1007.78 776.87Z"/><text x="1016.16" y="797.10" textLength="15.74" lengthAdjust="spacingAndGlyphs">5</text><text x="1032.96" y="797.10" textLength="22.37" lengthAdjust="spacingAndGlyphs">%</text></g>
<rect x="1238.8" y="715" width="156.5" height="48.7" rx="2.5" fill="#032d34"/>
<rect x="1268.8" y="763.7" width="96.5" height="36.4" rx="1.5" fill="#03a6a1"/>
<g id="n16" class="n"><text x="1263.49" y="752.10" textLength="21.27" lengthAdjust="spacingAndGlyphs">2</text><text x="1284.23" y="752.10" textLength="21.48" lengthAdjust="spacingAndGlyphs">6</text><text x="1310.39" y="752.10" textLength="20.35" lengthAdjust="spacingAndGlyphs">8</text><text x="1330.34" y="752.10" textLength="19.42" lengthAdjust="spacingAndGlyphs">7</text><text x="1349.54" y="752.10" textLength="20.45" lengthAdjust="spacingAndGlyphs">3</text></g>
<g id="p16" class="p"><text x="1289.25" y="792.60" textLength="14.46" lengthAdjust="spacingAndGlyphs">+</text><text x="1304.71" y="792.60" textLength="15.71" lengthAdjust="spacingAndGlyphs">4</text><text x="1322.61" y="792.60" textLength="22.37" lengthAdjust="spacingAndGlyphs">%</text></g>
<rect x="408.2" y="857.5" width="156.5" height="48.7" rx="2.5" fill="#032d34"/>
<rect x="438.2" y="906.2" width="96.5" height="36.4" rx="1.5" fill="#03a6a1"/>
<g id="n17" class="n"><text x="431.60" y="894.60" textLength="20.43" lengthAdjust="spacingAndGlyphs">4</text><text x="452.48" y="894.60" textLength="22.25" lengthAdjust="spacingAndGlyphs">0</text><text x="479.61" y="894.60" textLength="20.43" lengthAdjust="spacingAndGlyphs">4</text><text x="500.74" y="894.60" textLength="20.97" lengthAdjust="spacingAndGlyphs">9</text><text x="521.03" y="894.60" textLength="22.25" lengthAdjust="spacingAndGlyphs">0</text></g>
<g id="p17" class="p"><text x="455.43" y="935.10" textLength="14.46" lengthAdjust="spacingAndGlyphs">+</text><path d="M471.13 913.70L477.82 913.70L477.82 935.40L472.34 935.40L472.34 919.73L470.54 919.73L470.54 914.87Z"/><text x="478.96" y="935.10" textLength="15.71" lengthAdjust="spacingAndGlyphs">3</text><text x="495.27" y="935.10" textLength="22.37" lengthAdjust="spacingAndGlyphs">%</text></g>
<rect x="816.8" y="892.5" width="156.5" height="48.7" rx="2.5" fill="#032d34"/>
<rect x="846.8" y="941.2" width="96.5" height="36.4" rx="1.5" fill="#03a6a1"/>
<g id="n18" class="n"><text x="841.74" y="929.60" textLength="20.43" lengthAdjust="spacingAndGlyphs">4</text><text x="862.90" y="929.60" textLength="21.27" lengthAdjust="spacingAndGlyphs">2</text><text x="888.60" y="929.60" textLength="20.35" lengthAdjust="spacingAndGlyphs">8</text><text x="908.49" y="929.60" textLength="19.42" lengthAdjust="spacingAndGlyphs">7</text><text x="926.99" y="929.60" textLength="22.25" lengthAdjust="spacingAndGlyphs">0</text></g>
<g id="p18" class="p"><text x="860.48" y="970.10" textLength="14.46" lengthAdjust="spacingAndGlyphs">+</text><text x="874.57" y="970.10" textLength="16.35" lengthAdjust="spacingAndGlyphs">2</text><text x="890.85" y="970.10" textLength="15.71" lengthAdjust="spacingAndGlyphs">3</text><text x="906.88" y="970.10" textLength="22.37" lengthAdjust="spacingAndGlyphs">%</text></g>
<rect x="976.2" y="855.8" width="156.5" height="48.7" rx="2.5" fill="#032d34"/>
<rect x="1006.2" y="904.5" width="96.5" height="36.4" rx="1.5" fill="#ab143e"/>
<g id="n19" class="n"><path d="M1006.60 865.25L1015.15 865.25L1015.15 893.15L1008.15 893.15L1008.15 872.95L1005.85 872.95L1005.85 866.75Z"/><text x="1016.46" y="892.85" textLength="20.35" lengthAdjust="spacingAndGlyphs">8</text><text x="1042.22" y="892.85" textLength="20.45" lengthAdjust="spacingAndGlyphs">3</text><text x="1062.62" y="892.85" textLength="20.97" lengthAdjust="spacingAndGlyphs">9</text><text x="1083.91" y="892.85" textLength="20.45" lengthAdjust="spacingAndGlyphs">3</text></g>
<g id="p19" class="p"><text x="1029.77" y="933.35" textLength="9.05" lengthAdjust="spacingAndGlyphs">-</text><text x="1039.29" y="933.35" textLength="16.35" lengthAdjust="spacingAndGlyphs">2</text><text x="1056.52" y="933.35" textLength="22.37" lengthAdjust="spacingAndGlyphs">%</text></g>
<rect x="1326.8" y="881.2" width="156.5" height="48.7" rx="2.5" fill="#032d34"/>
<rect x="1356.8" y="930" width="96.5" height="36.4" rx="1.5" fill="#ab143e"/>
<g id="n20" class="n"><path d="M1355.53 890.75L1364.08 890.75L1364.08 918.65L1357.08 918.65L1357.08 898.45L1354.78 898.45L1354.78 892.25Z"/><text x="1365.93" y="918.35" textLength="20.43" lengthAdjust="spacingAndGlyphs">4</text><text x="1392.27" y="918.35" textLength="20.97" lengthAdjust="spacingAndGlyphs">9</text><text x="1413.13" y="918.35" textLength="21.27" lengthAdjust="spacingAndGlyphs">2</text><text x="1434.88" y="918.35" textLength="20.43" lengthAdjust="spacingAndGlyphs">4</text></g>
<g id="p20" class="p"><text x="1379.73" y="958.85" textLength="9.05" lengthAdjust="spacingAndGlyphs">-</text><text x="1389.76" y="958.85" textLength="15.71" lengthAdjust="spacingAndGlyphs">3</text><text x="1406.86" y="958.85" textLength="22.37" lengthAdjust="spacingAndGlyphs">%</text></g>
<rect x="1123.8" y="966.8" width="156.5" height="48.7" rx="2.5" fill="#032d34"/>
<rect x="1153.8" y="1015.5" width="96.5" height="36.4" rx="1.5" fill="#03a6a1"/>
<g id="n21" class="n"><path d="M1152.01 976.25L1160.56 976.25L1160.56 1004.15L1153.56 1004.15L1153.56 983.95L1151.26 983.95L1151.26 977.75Z"/><text x="1162.43" y="1003.85" textLength="20.43" lengthAdjust="spacingAndGlyphs">4</text><text x="1189.57" y="1003.85" textLength="20.43" lengthAdjust="spacingAndGlyphs">4</text><text x="1211.46" y="1003.85" textLength="20.45" lengthAdjust="spacingAndGlyphs">3</text><text x="1231.62" y="1003.85" textLength="22.25" lengthAdjust="spacingAndGlyphs">0</text></g>
<g id="p21" class="p"><text x="1174.76" y="1044.35" textLength="14.46" lengthAdjust="spacingAndGlyphs">+</text><text x="1189.69" y="1044.35" textLength="15.71" lengthAdjust="spacingAndGlyphs">3</text><text x="1206.40" y="1044.35" textLength="22.37" lengthAdjust="spacingAndGlyphs">%</text></g>
<text id="c0" class="c" x="557.80" y="423.00" textLength="65.95" lengthAdjust="spacingAndGlyphs">Рівне</text>
<text id="c1" class="c" x="391.16" y="470.00" textLength="72.72" lengthAdjust="spacingAndGlyphs">Луцьк</text>
<text id="c2" class="c" x="975.24" y="472.50" textLength="104.22" lengthAdjust="spacingAndGlyphs">Чернігів</text>
<text id="c3" class="c" x="1231.11" y="497.50" textLength="67.86" lengthAdjust="spacingAndGlyphs">Суми</text>
<text id="c4" class="c" x="663.77" y="558.75" textLength="119.33" lengthAdjust="spacingAndGlyphs">Житомир</text>
<text id="c5" class="c" x="269.85" y="628.00" textLength="62.54" lengthAdjust="spacingAndGlyphs">Львів</text>
<text id="c6" class="c" x="431.08" y="652.50" textLength="123.95" lengthAdjust="spacingAndGlyphs">Тернопіль</text>
<text id="c7" class="c" x="854.75" y="634.50" textLength="50.34" lengthAdjust="spacingAndGlyphs">Київ</text>
<text id="c8" class="c" x="975.23" y="693.75" textLength="108.72" lengthAdjust="spacingAndGlyphs">Черкаси</text>
<text id="c9" class="c" x="1170.27" y="679.50" textLength="101.10" lengthAdjust="spacingAndGlyphs">Полтава</text>
<text id="c10" class="c" x="1392.34" y="703.00" textLength="83.58" lengthAdjust="spacingAndGlyphs">Харків</text>
<text id="c11" class="c" x="172.74" y="774.30" textLength="113.98" lengthAdjust="spacingAndGlyphs">Ужгород</text>
<text id="c12" class="c" x="335.56" y="732.50" textLength="76.97" lengthAdjust="spacingAndGlyphs">Івано-</text>
<text id="c13" class="c" x="302.54" y="765.00" textLength="142.40" lengthAdjust="spacingAndGlyphs">Франківськ</text>
<text id="c14" class="c" x="501.43" y="700.50" textLength="182.99" lengthAdjust="spacingAndGlyphs">Хмельницький</text>
<text id="c15" class="c" x="738.26" y="822.50" textLength="94.15" lengthAdjust="spacingAndGlyphs">Вінниця</text>
<text id="c16" class="c" x="925.41" y="832.00" textLength="195.09" lengthAdjust="spacingAndGlyphs">Кропивницький</text>
<text id="c17" class="c" x="1270.45" y="826.25" textLength="90.46" lengthAdjust="spacingAndGlyphs">Дніпро</text>
<text id="c18" class="c" x="431.57" y="842.50" textLength="107.28" lengthAdjust="spacingAndGlyphs">Чернівці</text>
<text id="c19" class="c" x="852.53" y="1003.75" textLength="80.41" lengthAdjust="spacingAndGlyphs">Одеса</text>
<text id="c20" class="c" x="994.26" y="968.00" textLength="117.61" lengthAdjust="spacingAndGlyphs">Миколаїв</text>
<text id="c21" class="c" x="1334.53" y="993.80" textLength="139.25" lengthAdjust="spacingAndGlyphs">Запоріжжя</text>
<text id="c22" class="c" x="1151.54" y="1079.50" textLength="99.08" lengthAdjust="spacingAndGlyphs">Херсон</text>
</svg></body></html>
